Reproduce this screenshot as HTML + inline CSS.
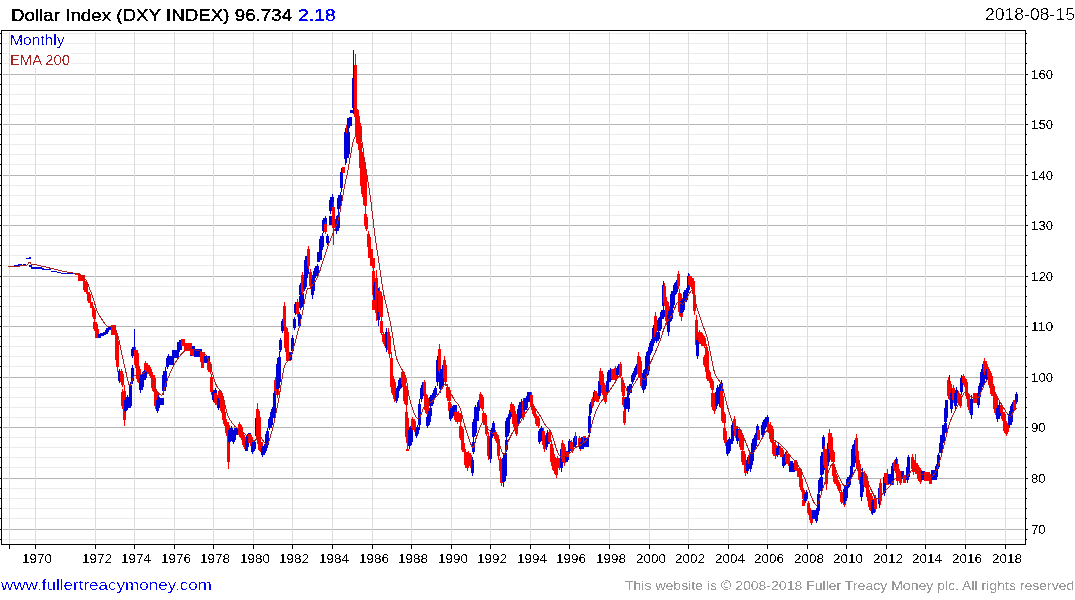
<!DOCTYPE html><html><head><meta charset="utf-8"><style>html,body{margin:0;padding:0;background:#fff;width:1075px;height:600px;overflow:hidden}svg{display:block}text{font-family:"Liberation Sans",sans-serif}</style></head><body>
<svg width="1075" height="600" viewBox="0 0 1075 600">
<rect width="1075" height="600" fill="#fff"/>
<g shape-rendering="crispEdges">
<line x1="3" y1="539.5" x2="1024" y2="539.5" stroke="#ebebeb"/>
<line x1="3" y1="529.5" x2="1024" y2="529.5" stroke="#b4b4b4"/>
<line x1="3" y1="518.5" x2="1024" y2="518.5" stroke="#ebebeb"/>
<line x1="3" y1="508.5" x2="1024" y2="508.5" stroke="#ebebeb"/>
<line x1="3" y1="498.5" x2="1024" y2="498.5" stroke="#ebebeb"/>
<line x1="3" y1="488.5" x2="1024" y2="488.5" stroke="#ebebeb"/>
<line x1="3" y1="478.5" x2="1024" y2="478.5" stroke="#b4b4b4"/>
<line x1="3" y1="467.5" x2="1024" y2="467.5" stroke="#ebebeb"/>
<line x1="3" y1="457.5" x2="1024" y2="457.5" stroke="#ebebeb"/>
<line x1="3" y1="447.5" x2="1024" y2="447.5" stroke="#ebebeb"/>
<line x1="3" y1="437.5" x2="1024" y2="437.5" stroke="#ebebeb"/>
<line x1="3" y1="427.5" x2="1024" y2="427.5" stroke="#b4b4b4"/>
<line x1="3" y1="417.5" x2="1024" y2="417.5" stroke="#ebebeb"/>
<line x1="3" y1="407.5" x2="1024" y2="407.5" stroke="#ebebeb"/>
<line x1="3" y1="397.5" x2="1024" y2="397.5" stroke="#ebebeb"/>
<line x1="3" y1="387.5" x2="1024" y2="387.5" stroke="#ebebeb"/>
<line x1="3" y1="377.5" x2="1024" y2="377.5" stroke="#b4b4b4"/>
<line x1="3" y1="366.5" x2="1024" y2="366.5" stroke="#ebebeb"/>
<line x1="3" y1="356.5" x2="1024" y2="356.5" stroke="#ebebeb"/>
<line x1="3" y1="346.5" x2="1024" y2="346.5" stroke="#ebebeb"/>
<line x1="3" y1="336.5" x2="1024" y2="336.5" stroke="#ebebeb"/>
<line x1="3" y1="326.5" x2="1024" y2="326.5" stroke="#b4b4b4"/>
<line x1="3" y1="316.5" x2="1024" y2="316.5" stroke="#ebebeb"/>
<line x1="3" y1="306.5" x2="1024" y2="306.5" stroke="#ebebeb"/>
<line x1="3" y1="296.5" x2="1024" y2="296.5" stroke="#ebebeb"/>
<line x1="3" y1="286.5" x2="1024" y2="286.5" stroke="#ebebeb"/>
<line x1="3" y1="276.5" x2="1024" y2="276.5" stroke="#b4b4b4"/>
<line x1="3" y1="265.5" x2="1024" y2="265.5" stroke="#ebebeb"/>
<line x1="3" y1="255.5" x2="1024" y2="255.5" stroke="#ebebeb"/>
<line x1="3" y1="245.5" x2="1024" y2="245.5" stroke="#ebebeb"/>
<line x1="3" y1="235.5" x2="1024" y2="235.5" stroke="#ebebeb"/>
<line x1="3" y1="225.5" x2="1024" y2="225.5" stroke="#b4b4b4"/>
<line x1="3" y1="215.5" x2="1024" y2="215.5" stroke="#ebebeb"/>
<line x1="3" y1="205.5" x2="1024" y2="205.5" stroke="#ebebeb"/>
<line x1="3" y1="195.5" x2="1024" y2="195.5" stroke="#ebebeb"/>
<line x1="3" y1="185.5" x2="1024" y2="185.5" stroke="#ebebeb"/>
<line x1="3" y1="175.5" x2="1024" y2="175.5" stroke="#b4b4b4"/>
<line x1="3" y1="164.5" x2="1024" y2="164.5" stroke="#ebebeb"/>
<line x1="3" y1="154.5" x2="1024" y2="154.5" stroke="#ebebeb"/>
<line x1="3" y1="144.5" x2="1024" y2="144.5" stroke="#ebebeb"/>
<line x1="3" y1="134.5" x2="1024" y2="134.5" stroke="#ebebeb"/>
<line x1="3" y1="124.5" x2="1024" y2="124.5" stroke="#b4b4b4"/>
<line x1="3" y1="114.5" x2="1024" y2="114.5" stroke="#ebebeb"/>
<line x1="3" y1="104.5" x2="1024" y2="104.5" stroke="#ebebeb"/>
<line x1="3" y1="94.5" x2="1024" y2="94.5" stroke="#ebebeb"/>
<line x1="3" y1="84.5" x2="1024" y2="84.5" stroke="#ebebeb"/>
<line x1="3" y1="74.5" x2="1024" y2="74.5" stroke="#b4b4b4"/>
<line x1="3" y1="63.5" x2="1024" y2="63.5" stroke="#ebebeb"/>
<line x1="3" y1="53.5" x2="1024" y2="53.5" stroke="#ebebeb"/>
<line x1="3" y1="43.5" x2="1024" y2="43.5" stroke="#ebebeb"/>
<line x1="3" y1="33.5" x2="1024" y2="33.5" stroke="#ebebeb"/>
<line x1="9.5" y1="32" x2="9.5" y2="543" stroke="#dcdcdc"/>
<line x1="35.5" y1="32" x2="35.5" y2="543" stroke="#dcdcdc"/>
<line x1="95.5" y1="32" x2="95.5" y2="543" stroke="#dcdcdc"/>
<line x1="134.5" y1="32" x2="134.5" y2="543" stroke="#dcdcdc"/>
<line x1="174.5" y1="32" x2="174.5" y2="543" stroke="#dcdcdc"/>
<line x1="213.5" y1="32" x2="213.5" y2="543" stroke="#dcdcdc"/>
<line x1="253.5" y1="32" x2="253.5" y2="543" stroke="#dcdcdc"/>
<line x1="292.5" y1="32" x2="292.5" y2="543" stroke="#dcdcdc"/>
<line x1="332.5" y1="32" x2="332.5" y2="543" stroke="#dcdcdc"/>
<line x1="372.5" y1="32" x2="372.5" y2="543" stroke="#dcdcdc"/>
<line x1="411.5" y1="32" x2="411.5" y2="543" stroke="#dcdcdc"/>
<line x1="451.5" y1="32" x2="451.5" y2="543" stroke="#dcdcdc"/>
<line x1="490.5" y1="32" x2="490.5" y2="543" stroke="#dcdcdc"/>
<line x1="530.5" y1="32" x2="530.5" y2="543" stroke="#dcdcdc"/>
<line x1="569.5" y1="32" x2="569.5" y2="543" stroke="#dcdcdc"/>
<line x1="609.5" y1="32" x2="609.5" y2="543" stroke="#dcdcdc"/>
<line x1="649.5" y1="32" x2="649.5" y2="543" stroke="#dcdcdc"/>
<line x1="688.5" y1="32" x2="688.5" y2="543" stroke="#dcdcdc"/>
<line x1="728.5" y1="32" x2="728.5" y2="543" stroke="#dcdcdc"/>
<line x1="767.5" y1="32" x2="767.5" y2="543" stroke="#dcdcdc"/>
<line x1="807.5" y1="32" x2="807.5" y2="543" stroke="#dcdcdc"/>
<line x1="846.5" y1="32" x2="846.5" y2="543" stroke="#dcdcdc"/>
<line x1="886.5" y1="32" x2="886.5" y2="543" stroke="#dcdcdc"/>
<line x1="925.5" y1="32" x2="925.5" y2="543" stroke="#dcdcdc"/>
<line x1="965.5" y1="32" x2="965.5" y2="543" stroke="#dcdcdc"/>
<line x1="1005.5" y1="32" x2="1005.5" y2="543" stroke="#dcdcdc"/>
</g>
<rect x="10" y="31" width="54" height="17" fill="#fff"/>
<rect x="10" y="51" width="61" height="17" fill="#fff"/>
<g shape-rendering="crispEdges">
<path d="M8.00 265.50H14.00V267.00H8.00ZM14.00 265.00H18.00V266.50H14.00ZM18.00 264.00H21.50V265.50H18.00ZM23.00 264.00H26.00V265.50H23.00ZM26.00 257.50H28.50V259.00H26.00ZM28.50 257.00H31.00V258.50H28.50ZM29.00 265.00H31.70V266.50H29.00ZM31.00 267.00H41.70V268.50H31.00ZM41.70 268.00H44.00V269.50H41.70ZM44.00 268.80H50.80V270.20H44.00ZM51.00 271.00H56.80V272.40H51.00ZM56.80 272.00H61.00V273.40H56.80ZM61.00 272.50H75.00V274.00H61.00Z" fill="#0000d8"/>
<path d="M75.00 273.00H79.50V275.30H75.00ZM79.00 275.00H80.00V281.00H79.00ZM78.00 275.00H81.00V281.00H78.00ZM81.00 275.00H82.00V281.00H81.00ZM80.00 275.00H83.00V281.00H80.00ZM83.00 275.00H84.00V281.00H83.00ZM82.00 275.00H85.00V281.00H82.00ZM84.00 279.00H85.00V292.00H84.00ZM83.00 281.00H86.00V290.00H83.00ZM86.00 281.00H87.00V294.00H86.00ZM85.00 283.00H88.00V292.00H85.00ZM88.00 292.00H89.00V301.00H88.00ZM87.00 292.00H90.00V301.00H87.00ZM89.00 294.00H90.00V303.00H89.00ZM88.00 294.00H91.00V303.00H88.00ZM91.00 302.00H92.00V308.00H91.00ZM90.00 302.00H93.00V308.00H90.00ZM93.00 306.00H94.00V319.00H93.00ZM92.00 308.00H95.00V317.00H92.00ZM94.00 308.00H95.00V321.00H94.00ZM93.00 310.00H96.00V319.00H93.00ZM94.00 320.00H95.00V331.00H94.00ZM93.00 322.00H96.00V329.00H93.00ZM96.00 322.00H97.00V333.00H96.00ZM95.00 324.00H98.00V331.00H95.00ZM96.00 329.00H97.00V338.00H96.00ZM95.00 329.00H98.00V338.00H95.00ZM97.00 329.00H98.00V338.00H97.00ZM96.00 329.00H99.00V338.00H96.00Z" fill="#ff0000"/>
<path d="M99.00 334.00H100.00V338.00H99.00ZM98.00 334.00H101.00V338.00H98.00ZM101.00 333.00H102.00V336.00H101.00ZM100.00 333.00H103.00V336.00H100.00ZM102.00 333.00H103.00V336.00H102.00ZM101.00 333.00H104.00V336.00H101.00ZM104.00 332.00H105.00V335.00H104.00ZM103.00 332.00H106.00V335.00H103.00ZM106.00 330.00H107.00V334.00H106.00ZM105.00 330.00H108.00V334.00H105.00ZM107.00 328.00H108.00V332.00H107.00ZM106.00 328.00H109.00V332.00H106.00ZM109.00 326.00H110.00V330.00H109.00ZM108.00 326.00H111.00V330.00H108.00Z" fill="#0000d8"/>
<path d="M112.00 325.00H113.00V335.00H112.00ZM111.00 325.00H114.00V335.00H111.00ZM114.00 325.00H115.00V335.00H114.00ZM113.00 325.00H116.00V335.00H113.00ZM116.00 330.00H117.00V365.00H116.00ZM115.00 335.00H118.00V360.00H115.00ZM117.00 336.00H118.00V372.00H117.00ZM116.00 341.00H119.00V367.00H116.00Z" fill="#ff0000"/>
<path d="M119.00 369.00H120.00V383.00H119.00ZM118.00 371.00H121.00V381.00H118.00Z" fill="#0000d8"/>
<path d="M121.00 369.00H122.00V384.00H121.00ZM120.00 371.00H123.00V382.00H120.00ZM122.00 372.00H123.00V387.00H122.00ZM121.00 374.00H124.00V385.00H121.00ZM122.00 389.00H123.00V409.00H122.00ZM121.00 392.00H124.00V406.00H121.00ZM124.00 393.00H125.00V413.00H124.00ZM123.00 396.00H126.00V410.00H123.00ZM124.00 385.00H125.00V426.00H124.00ZM123.00 391.00H126.00V420.00H123.00Z" fill="#ff0000"/>
<path d="M125.00 398.00H126.00V413.00H125.00ZM124.00 400.00H127.00V411.00H124.00ZM127.00 395.00H128.00V410.00H127.00ZM126.00 397.00H129.00V408.00H126.00ZM129.00 399.00H130.00V408.00H129.00ZM128.00 399.00H131.00V408.00H128.00ZM130.00 398.00H131.00V406.00H130.00ZM129.00 398.00H132.00V406.00H129.00ZM130.00 382.00H131.00V402.00H130.00ZM129.00 385.00H132.00V399.00H129.00ZM132.00 365.00H133.00V384.00H132.00ZM131.00 368.00H134.00V381.00H131.00ZM132.00 347.00H133.00V358.00H132.00ZM131.00 349.00H134.00V356.00H131.00ZM134.00 329.00H135.00V346.00H134.00ZM134.00 345.00H135.00V356.00H134.00ZM133.00 347.00H136.00V354.00H133.00Z" fill="#0000d8"/>
<path d="M135.00 347.00H136.00V368.00H135.00ZM134.00 350.00H137.00V365.00H134.00ZM137.00 350.00H138.00V372.00H137.00ZM136.00 353.00H139.00V369.00H136.00ZM137.00 363.00H138.00V382.00H137.00ZM136.00 366.00H139.00V379.00H136.00ZM139.00 366.00H140.00V386.00H139.00ZM138.00 369.00H141.00V383.00H138.00Z" fill="#ff0000"/>
<path d="M140.00 375.00H141.00V393.00H140.00ZM139.00 378.00H142.00V390.00H139.00ZM142.00 372.00H143.00V390.00H142.00ZM141.00 375.00H144.00V387.00H141.00ZM144.00 371.00H145.00V380.00H144.00ZM143.00 371.00H146.00V380.00H143.00ZM145.00 369.00H146.00V378.00H145.00ZM144.00 369.00H147.00V378.00H144.00Z" fill="#0000d8"/>
<path d="M145.00 361.00H146.00V372.00H145.00ZM144.00 363.00H147.00V370.00H144.00ZM147.00 363.00H148.00V374.00H147.00ZM146.00 365.00H149.00V372.00H146.00ZM149.00 365.00H150.00V376.00H149.00ZM148.00 367.00H151.00V374.00H148.00ZM150.00 367.00H151.00V378.00H150.00ZM149.00 369.00H152.00V376.00H149.00ZM152.00 372.00H153.00V391.00H152.00ZM151.00 375.00H154.00V388.00H151.00ZM154.00 375.00H155.00V395.00H154.00ZM153.00 378.00H156.00V392.00H153.00ZM155.00 387.00H156.00V409.00H155.00ZM154.00 390.00H157.00V406.00H154.00ZM157.00 391.00H158.00V413.00H157.00ZM156.00 394.00H159.00V410.00H156.00Z" fill="#ff0000"/>
<path d="M157.00 398.00H158.00V413.00H157.00ZM156.00 400.00H159.00V411.00H156.00ZM158.00 395.00H159.00V410.00H158.00ZM157.00 397.00H160.00V408.00H157.00ZM160.00 398.00H161.00V405.00H160.00ZM159.00 398.00H162.00V405.00H159.00ZM162.00 398.00H163.00V405.00H162.00ZM161.00 398.00H164.00V405.00H161.00ZM163.00 371.00H164.00V395.00H163.00ZM162.00 375.00H165.00V391.00H162.00ZM165.00 367.00H166.00V391.00H165.00ZM164.00 371.00H167.00V387.00H164.00ZM167.00 356.00H168.00V369.00H167.00ZM166.00 358.00H169.00V367.00H166.00ZM168.00 354.00H169.00V367.00H168.00ZM167.00 356.00H170.00V365.00H167.00ZM170.00 356.00H171.00V365.00H170.00ZM169.00 356.00H172.00V365.00H169.00ZM172.00 356.00H173.00V365.00H172.00ZM171.00 356.00H174.00V365.00H171.00ZM173.00 350.00H174.00V358.00H173.00ZM172.00 350.00H175.00V358.00H172.00ZM175.00 350.00H176.00V358.00H175.00ZM174.00 350.00H177.00V358.00H174.00ZM177.00 350.00H178.00V358.00H177.00ZM176.00 350.00H179.00V358.00H176.00ZM178.00 342.00H179.00V352.00H178.00ZM177.00 342.00H180.00V352.00H177.00ZM180.00 340.00H181.00V350.00H180.00ZM179.00 340.00H182.00V350.00H179.00Z" fill="#0000d8"/>
<path d="M182.00 339.00H183.00V346.00H182.00ZM181.00 339.00H184.00V346.00H181.00ZM183.00 339.00H184.00V346.00H183.00ZM182.00 339.00H185.00V346.00H182.00ZM185.00 343.00H186.00V351.00H185.00ZM184.00 343.00H187.00V351.00H184.00ZM186.00 343.00H187.00V351.00H186.00ZM185.00 343.00H188.00V351.00H185.00ZM188.00 343.00H189.00V351.00H188.00ZM187.00 343.00H190.00V351.00H187.00ZM190.00 343.00H191.00V351.00H190.00ZM189.00 343.00H192.00V351.00H189.00ZM190.00 345.00H191.00V351.00H190.00ZM189.00 345.00H192.00V351.00H189.00Z" fill="#ff0000"/>
<path d="M191.00 347.00H192.00V356.00H191.00ZM190.00 347.00H193.00V356.00H190.00Z" fill="#0000d8"/>
<path d="M191.00 346.00H192.00V355.00H191.00ZM190.00 346.00H193.00V355.00H190.00Z" fill="#ff0000"/>
<path d="M193.00 346.00H194.00V354.00H193.00ZM192.00 346.00H195.00V354.00H192.00Z" fill="#0000d8"/>
<path d="M193.00 350.00H194.00V356.00H193.00ZM192.00 350.00H195.00V356.00H192.00Z" fill="#ff0000"/>
<path d="M195.00 349.00H196.00V357.00H195.00ZM194.00 349.00H197.00V357.00H194.00ZM196.00 349.00H197.00V357.00H196.00ZM195.00 349.00H198.00V357.00H195.00ZM198.00 349.00H199.00V357.00H198.00ZM197.00 349.00H200.00V357.00H197.00ZM200.00 349.00H201.00V357.00H200.00ZM199.00 349.00H202.00V357.00H199.00Z" fill="#0000d8"/>
<path d="M201.00 352.00H202.00V362.00H201.00ZM200.00 352.00H203.00V362.00H200.00ZM202.00 360.00H203.00V368.00H202.00ZM201.00 360.00H204.00V368.00H201.00ZM203.00 352.00H204.00V362.00H203.00ZM202.00 352.00H205.00V362.00H202.00Z" fill="#ff0000"/>
<path d="M205.00 356.00H206.00V363.00H205.00ZM204.00 356.00H207.00V363.00H204.00ZM206.00 356.00H207.00V363.00H206.00ZM205.00 356.00H208.00V363.00H205.00ZM208.00 356.00H209.00V363.00H208.00ZM207.00 356.00H210.00V363.00H207.00Z" fill="#0000d8"/>
<path d="M208.00 360.00H209.00V372.00H208.00ZM207.00 362.00H210.00V370.00H207.00ZM210.00 362.00H211.00V374.00H210.00ZM209.00 364.00H212.00V372.00H209.00ZM211.00 374.00H212.00V395.00H211.00ZM210.00 377.00H213.00V392.00H210.00Z" fill="#ff0000"/>
<path d="M213.00 390.00H214.00V402.00H213.00ZM212.00 392.00H215.00V400.00H212.00ZM215.00 388.00H216.00V400.00H215.00ZM214.00 390.00H217.00V398.00H214.00Z" fill="#0000d8"/>
<path d="M215.00 393.00H216.00V403.00H215.00ZM214.00 393.00H217.00V403.00H214.00ZM216.00 395.00H217.00V405.00H216.00ZM215.00 395.00H218.00V405.00H215.00Z" fill="#ff0000"/>
<path d="M218.00 396.00H219.00V410.00H218.00ZM217.00 398.00H220.00V408.00H217.00Z" fill="#0000d8"/>
<path d="M219.00 389.00H220.00V400.00H219.00ZM218.00 391.00H221.00V398.00H218.00ZM221.00 391.00H222.00V402.00H221.00ZM220.00 393.00H223.00V400.00H220.00ZM221.00 398.00H222.00V413.00H221.00ZM220.00 400.00H223.00V411.00H220.00ZM223.00 400.00H224.00V423.00H223.00ZM222.00 403.00H225.00V420.00H222.00ZM224.00 410.00H225.00V426.00H224.00ZM223.00 412.00H226.00V424.00H223.00ZM226.00 419.00H227.00V436.00H226.00ZM225.00 422.00H228.00V433.00H225.00ZM228.00 422.00H229.00V440.00H228.00ZM227.00 425.00H230.00V437.00H227.00ZM228.00 423.00H229.00V469.00H228.00ZM227.00 430.00H230.00V462.00H227.00Z" fill="#ff0000"/>
<path d="M229.00 428.00H230.00V444.00H229.00ZM228.00 430.00H231.00V442.00H228.00ZM231.00 426.00H232.00V441.00H231.00ZM230.00 428.00H233.00V439.00H230.00ZM233.00 430.00H234.00V444.00H233.00ZM232.00 432.00H235.00V442.00H232.00ZM234.00 428.00H235.00V442.00H234.00ZM233.00 430.00H236.00V440.00H233.00ZM236.00 428.00H237.00V435.00H236.00ZM235.00 428.00H238.00V435.00H235.00ZM238.00 428.00H239.00V435.00H238.00ZM237.00 428.00H240.00V435.00H237.00Z" fill="#0000d8"/>
<path d="M239.00 422.00H240.00V437.00H239.00ZM238.00 424.00H241.00V435.00H238.00ZM241.00 425.00H242.00V440.00H241.00ZM240.00 427.00H243.00V438.00H240.00ZM243.00 433.00H244.00V447.00H243.00ZM242.00 435.00H245.00V445.00H242.00ZM244.00 435.00H245.00V449.00H244.00ZM243.00 437.00H246.00V447.00H243.00Z" fill="#ff0000"/>
<path d="M246.00 441.00H247.00V451.00H246.00ZM245.00 441.00H248.00V451.00H245.00ZM247.00 434.00H248.00V449.00H247.00ZM246.00 436.00H249.00V447.00H246.00ZM249.00 433.00H250.00V443.00H249.00ZM248.00 433.00H251.00V443.00H248.00Z" fill="#0000d8"/>
<path d="M249.00 434.00H250.00V443.00H249.00ZM248.00 434.00H251.00V443.00H248.00ZM251.00 435.00H252.00V448.00H251.00ZM250.00 437.00H253.00V446.00H250.00ZM252.00 441.00H253.00V450.00H252.00ZM251.00 441.00H254.00V450.00H251.00Z" fill="#ff0000"/>
<path d="M252.00 442.00H253.00V454.00H252.00ZM251.00 444.00H254.00V452.00H251.00ZM254.00 440.00H255.00V451.00H254.00ZM253.00 442.00H256.00V449.00H253.00ZM256.00 414.00H257.00V440.00H256.00ZM255.00 418.00H258.00V436.00H255.00ZM257.00 409.00H258.00V435.00H257.00ZM256.00 413.00H259.00V431.00H256.00Z" fill="#0000d8"/>
<path d="M257.00 403.00H258.00V444.00H257.00ZM256.00 409.00H259.00V438.00H256.00ZM259.00 411.00H260.00V451.00H259.00ZM258.00 417.00H261.00V445.00H258.00ZM259.00 440.00H260.00V450.00H259.00ZM258.00 440.00H261.00V450.00H258.00ZM261.00 442.00H262.00V452.00H261.00ZM260.00 442.00H263.00V452.00H260.00Z" fill="#ff0000"/>
<path d="M262.00 446.00H263.00V457.00H262.00ZM261.00 448.00H264.00V455.00H261.00ZM264.00 444.00H265.00V455.00H264.00ZM263.00 446.00H266.00V453.00H263.00ZM266.00 431.00H267.00V451.00H266.00ZM265.00 434.00H268.00V448.00H265.00ZM267.00 428.00H268.00V448.00H267.00ZM266.00 431.00H269.00V445.00H266.00ZM269.00 417.00H270.00V430.00H269.00ZM268.00 419.00H271.00V428.00H268.00ZM271.00 409.00H272.00V428.00H271.00ZM270.00 412.00H273.00V425.00H270.00ZM272.00 407.00H273.00V420.00H272.00ZM271.00 409.00H274.00V418.00H271.00ZM274.00 388.00H275.00V419.00H274.00ZM273.00 393.00H276.00V414.00H273.00Z" fill="#0000d8"/>
<path d="M275.00 377.00H276.00V394.00H275.00ZM274.00 380.00H277.00V391.00H274.00ZM277.00 380.00H278.00V398.00H277.00ZM276.00 383.00H279.00V395.00H276.00Z" fill="#ff0000"/>
<path d="M277.00 358.00H278.00V395.00H277.00ZM276.00 364.00H279.00V389.00H276.00ZM279.00 351.00H280.00V388.00H279.00ZM278.00 357.00H281.00V382.00H278.00ZM280.00 338.00H281.00V352.00H280.00ZM279.00 340.00H282.00V350.00H279.00ZM282.00 319.00H283.00V333.00H282.00ZM281.00 321.00H284.00V331.00H281.00Z" fill="#0000d8"/>
<path d="M284.00 302.00H285.00V330.00H284.00ZM283.00 306.00H286.00V326.00H283.00ZM285.00 323.00H286.00V352.00H285.00ZM284.00 327.00H287.00V348.00H284.00ZM287.00 328.00H288.00V357.00H287.00ZM286.00 332.00H289.00V353.00H286.00ZM287.00 352.00H288.00V361.00H287.00ZM286.00 352.00H289.00V361.00H286.00ZM289.00 352.00H290.00V361.00H289.00ZM288.00 352.00H291.00V361.00H288.00Z" fill="#ff0000"/>
<path d="M290.00 352.00H291.00V360.00H290.00ZM289.00 352.00H292.00V360.00H289.00ZM292.00 335.00H293.00V354.00H292.00ZM291.00 338.00H294.00V351.00H291.00ZM294.00 317.00H295.00V330.00H294.00ZM293.00 319.00H296.00V328.00H293.00ZM295.00 302.00H296.00V315.00H295.00ZM294.00 304.00H297.00V313.00H294.00Z" fill="#0000d8"/>
<path d="M297.00 299.00H298.00V317.00H297.00ZM296.00 302.00H299.00V314.00H296.00Z" fill="#ff0000"/>
<path d="M299.00 312.00H300.00V328.00H299.00ZM298.00 314.00H301.00V326.00H298.00ZM300.00 294.00H301.00V310.00H300.00ZM299.00 296.00H302.00V308.00H299.00ZM300.00 283.00H301.00V297.00H300.00ZM299.00 285.00H302.00V295.00H299.00ZM302.00 291.00H303.00V307.00H302.00ZM301.00 293.00H304.00V305.00H301.00ZM302.00 280.00H303.00V294.00H302.00ZM301.00 282.00H304.00V292.00H301.00Z" fill="#0000d8"/>
<path d="M302.00 272.00H303.00V295.00H302.00ZM301.00 275.00H304.00V292.00H301.00Z" fill="#ff0000"/>
<path d="M304.00 279.00H305.00V291.00H304.00ZM303.00 281.00H306.00V289.00H303.00ZM305.00 276.00H306.00V289.00H305.00ZM304.00 278.00H307.00V287.00H304.00ZM305.00 256.00H306.00V282.00H305.00ZM304.00 260.00H307.00V278.00H304.00ZM307.00 252.00H308.00V278.00H307.00ZM306.00 256.00H309.00V274.00H306.00Z" fill="#0000d8"/>
<path d="M308.00 246.00H309.00V269.00H308.00ZM307.00 249.00H310.00V266.00H307.00ZM310.00 269.00H311.00V289.00H310.00ZM309.00 272.00H312.00V286.00H309.00Z" fill="#ff0000"/>
<path d="M312.00 275.00H313.00V299.00H312.00ZM311.00 279.00H314.00V295.00H311.00ZM313.00 271.00H314.00V295.00H313.00ZM312.00 275.00H315.00V291.00H312.00ZM315.00 266.00H316.00V278.00H315.00ZM314.00 268.00H317.00V276.00H314.00ZM317.00 264.00H318.00V276.00H317.00ZM316.00 266.00H319.00V274.00H316.00ZM318.00 252.00H319.00V262.00H318.00ZM317.00 252.00H320.00V262.00H317.00ZM320.00 250.00H321.00V260.00H320.00ZM319.00 250.00H322.00V260.00H319.00ZM320.00 236.00H321.00V253.00H320.00ZM319.00 239.00H322.00V250.00H319.00ZM322.00 233.00H323.00V250.00H322.00ZM321.00 236.00H324.00V247.00H321.00ZM323.00 218.00H324.00V233.00H323.00ZM322.00 220.00H325.00V231.00H322.00ZM325.00 216.00H326.00V230.00H325.00ZM324.00 218.00H327.00V228.00H324.00Z" fill="#0000d8"/>
<path d="M325.00 222.00H326.00V234.00H325.00ZM324.00 224.00H327.00V232.00H324.00Z" fill="#ff0000"/>
<path d="M327.00 234.00H328.00V245.00H327.00ZM326.00 236.00H329.00V243.00H326.00ZM330.00 216.00H331.00V225.00H330.00ZM329.00 216.00H332.00V225.00H329.00ZM330.00 197.00H331.00V214.00H330.00ZM329.00 200.00H332.00V211.00H329.00ZM332.00 194.00H333.00V211.00H332.00ZM331.00 197.00H334.00V208.00H331.00Z" fill="#0000d8"/>
<path d="M333.00 202.00H334.00V233.00H333.00ZM332.00 207.00H335.00V228.00H332.00ZM333.00 232.00H334.00V245.00H333.00Z" fill="#ff0000"/>
<path d="M336.00 216.00H337.00V234.00H336.00ZM335.00 219.00H338.00V231.00H335.00ZM338.00 212.00H339.00V231.00H338.00ZM337.00 215.00H340.00V228.00H337.00ZM338.00 195.00H339.00V212.00H338.00ZM337.00 198.00H340.00V209.00H337.00ZM340.00 192.00H341.00V209.00H340.00ZM339.00 195.00H342.00V206.00H339.00ZM341.00 168.00H342.00V192.00H341.00ZM340.00 172.00H343.00V188.00H340.00Z" fill="#0000d8"/>
<path d="M343.00 167.00H344.00V173.00H343.00ZM342.00 167.00H345.00V173.00H342.00Z" fill="#ff0000"/>
<path d="M345.00 128.00H346.00V165.00H345.00ZM344.00 134.00H347.00V159.00H344.00ZM345.00 129.00H346.00V150.00H345.00ZM344.00 132.00H347.00V147.00H344.00ZM346.00 125.00H347.00V146.00H346.00ZM345.00 128.00H348.00V143.00H345.00Z" fill="#0000d8"/>
<path d="M346.00 125.00H347.00V142.00H346.00Z" fill="#ff0000"/>
<path d="M346.00 133.00H347.00V163.00H346.00ZM345.00 138.00H348.00V158.00H345.00ZM348.00 128.00H349.00V158.00H348.00ZM347.00 132.00H350.00V154.00H347.00ZM348.00 118.00H349.00V128.00H348.00ZM347.00 118.00H350.00V128.00H347.00ZM350.00 117.00H351.00V126.00H350.00ZM349.00 117.00H352.00V126.00H349.00ZM351.00 110.00H352.00V113.00H351.00ZM350.00 110.00H353.00V113.00H350.00ZM353.00 72.00H354.00V114.00H353.00ZM352.00 78.00H355.00V108.00H352.00ZM353.00 50.00H354.00V72.00H353.00Z" fill="#0000d8"/>
<path d="M355.00 70.00H356.00V112.00H355.00ZM354.00 76.00H357.00V106.00H354.00ZM355.00 54.00H356.00V128.00H355.00ZM354.00 65.00H357.00V117.00H354.00ZM356.00 103.00H357.00V143.00H356.00ZM355.00 109.00H358.00V137.00H355.00ZM358.00 110.00H359.00V150.00H358.00ZM357.00 116.00H360.00V144.00H357.00ZM358.00 120.00H359.00V140.00H358.00ZM357.00 123.00H360.00V137.00H357.00ZM360.00 123.00H361.00V143.00H360.00ZM359.00 126.00H362.00V140.00H359.00ZM360.00 138.00H361.00V173.00H360.00ZM359.00 143.00H362.00V168.00H359.00ZM361.00 144.00H362.00V194.00H361.00ZM360.00 152.00H363.00V186.00H360.00ZM363.00 165.00H364.00V200.00H363.00ZM362.00 170.00H365.00V195.00H362.00ZM363.00 153.00H364.00V205.00H363.00ZM362.00 161.00H365.00V197.00H362.00ZM365.00 162.00H366.00V214.00H365.00ZM364.00 170.00H367.00V206.00H364.00ZM365.00 212.00H366.00V228.00H365.00ZM364.00 214.00H367.00V226.00H364.00ZM366.00 215.00H367.00V231.00H366.00ZM365.00 217.00H368.00V229.00H365.00ZM368.00 231.00H369.00V250.00H368.00ZM367.00 234.00H370.00V247.00H367.00ZM369.00 234.00H370.00V253.00H369.00ZM368.00 237.00H371.00V250.00H368.00ZM369.00 249.00H370.00V258.00H369.00ZM368.00 249.00H371.00V258.00H368.00ZM371.00 249.00H372.00V258.00H371.00ZM370.00 249.00H373.00V258.00H370.00ZM371.00 256.00H372.00V266.00H371.00ZM370.00 256.00H373.00V266.00H370.00ZM373.00 258.00H374.00V268.00H373.00ZM372.00 258.00H375.00V268.00H372.00ZM373.00 266.00H374.00V300.00H373.00ZM372.00 271.00H375.00V295.00H372.00ZM373.00 300.00H374.00V310.00H373.00ZM372.00 300.00H375.00V310.00H372.00Z" fill="#ff0000"/>
<path d="M374.00 282.00H375.00V300.00H374.00ZM373.00 285.00H376.00V297.00H373.00Z" fill="#0000d8"/>
<path d="M376.00 270.00H377.00V321.00H376.00ZM375.00 278.00H378.00V313.00H375.00Z" fill="#ff0000"/>
<path d="M378.00 288.00H379.00V326.00H378.00ZM377.00 294.00H380.00V320.00H377.00Z" fill="#0000d8"/>
<path d="M379.00 287.00H380.00V316.00H379.00ZM378.00 291.00H381.00V312.00H378.00ZM381.00 292.00H382.00V321.00H381.00ZM380.00 296.00H383.00V317.00H380.00ZM381.00 319.00H382.00V335.00H381.00ZM380.00 321.00H383.00V333.00H380.00ZM383.00 332.00H384.00V344.00H383.00ZM382.00 334.00H385.00V342.00H382.00ZM384.00 334.00H385.00V346.00H384.00ZM383.00 336.00H386.00V344.00H383.00Z" fill="#ff0000"/>
<path d="M386.00 328.00H387.00V352.00H386.00ZM385.00 332.00H388.00V348.00H385.00Z" fill="#0000d8"/>
<path d="M388.00 328.00H389.00V354.00H388.00ZM387.00 332.00H390.00V350.00H387.00ZM389.00 332.00H390.00V358.00H389.00ZM388.00 336.00H391.00V354.00H388.00ZM391.00 352.00H392.00V393.00H391.00ZM390.00 358.00H393.00V387.00H390.00ZM393.00 376.00H394.00V398.00H393.00ZM392.00 379.00H395.00V395.00H392.00ZM394.00 379.00H395.00V402.00H394.00ZM393.00 382.00H396.00V399.00H393.00Z" fill="#ff0000"/>
<path d="M396.00 389.00H397.00V403.00H396.00ZM395.00 391.00H398.00V401.00H395.00ZM397.00 386.00H398.00V400.00H397.00ZM396.00 388.00H399.00V398.00H396.00ZM399.00 378.00H400.00V391.00H399.00ZM398.00 380.00H401.00V389.00H398.00ZM401.00 376.00H402.00V388.00H401.00ZM400.00 378.00H403.00V386.00H400.00Z" fill="#0000d8"/>
<path d="M402.00 369.00H403.00V387.00H402.00ZM401.00 372.00H404.00V384.00H401.00ZM404.00 372.00H405.00V391.00H404.00ZM403.00 375.00H406.00V388.00H403.00ZM404.00 382.00H405.00V404.00H404.00ZM403.00 385.00H406.00V401.00H403.00ZM406.00 386.00H407.00V408.00H406.00ZM405.00 389.00H408.00V405.00H405.00ZM406.00 406.00H407.00V443.00H406.00ZM405.00 412.00H408.00V437.00H405.00ZM407.00 412.00H408.00V449.00H407.00ZM406.00 418.00H409.00V443.00H406.00ZM407.00 449.00H408.00V451.00H407.00ZM406.00 449.00H409.00V451.00H406.00Z" fill="#ff0000"/>
<path d="M409.00 427.00H410.00V449.00H409.00ZM408.00 430.00H411.00V446.00H408.00ZM411.00 423.00H412.00V445.00H411.00ZM410.00 426.00H413.00V442.00H410.00Z" fill="#0000d8"/>
<path d="M412.00 417.00H413.00V430.00H412.00ZM411.00 419.00H414.00V428.00H411.00ZM414.00 419.00H415.00V432.00H414.00ZM413.00 421.00H416.00V430.00H413.00Z" fill="#ff0000"/>
<path d="M416.00 427.00H417.00V438.00H416.00ZM415.00 429.00H418.00V436.00H415.00ZM417.00 425.00H418.00V436.00H417.00ZM416.00 427.00H419.00V434.00H416.00ZM419.00 399.00H420.00V430.00H419.00ZM418.00 404.00H421.00V425.00H418.00ZM421.00 385.00H422.00V402.00H421.00ZM420.00 388.00H423.00V399.00H420.00ZM422.00 382.00H423.00V399.00H422.00ZM421.00 385.00H424.00V396.00H421.00Z" fill="#0000d8"/>
<path d="M424.00 380.00H425.00V395.00H424.00ZM423.00 382.00H426.00V393.00H423.00ZM425.00 391.00H426.00V413.00H425.00ZM424.00 394.00H427.00V410.00H424.00ZM427.00 395.00H428.00V417.00H427.00ZM426.00 398.00H429.00V414.00H426.00Z" fill="#ff0000"/>
<path d="M427.00 415.00H428.00V428.00H427.00ZM426.00 417.00H429.00V426.00H426.00ZM429.00 408.00H430.00V425.00H429.00ZM428.00 411.00H431.00V422.00H428.00ZM430.00 406.00H431.00V418.00H430.00ZM429.00 408.00H432.00V416.00H429.00ZM430.00 395.00H431.00V408.00H430.00ZM429.00 397.00H432.00V406.00H429.00ZM432.00 393.00H433.00V406.00H432.00ZM431.00 395.00H434.00V404.00H431.00ZM434.00 388.00H435.00V399.00H434.00ZM433.00 390.00H436.00V397.00H433.00ZM435.00 386.00H436.00V397.00H435.00ZM434.00 388.00H437.00V395.00H434.00ZM437.00 356.00H438.00V386.00H437.00ZM436.00 360.00H439.00V382.00H436.00Z" fill="#0000d8"/>
<path d="M439.00 344.00H440.00V376.00H439.00ZM438.00 349.00H441.00V371.00H438.00Z" fill="#ff0000"/>
<path d="M440.00 369.00H441.00V393.00H440.00ZM439.00 373.00H442.00V389.00H439.00ZM442.00 365.00H443.00V389.00H442.00ZM441.00 369.00H444.00V385.00H441.00Z" fill="#0000d8"/>
<path d="M444.00 356.00H445.00V382.00H444.00ZM443.00 360.00H446.00V378.00H443.00ZM445.00 361.00H446.00V386.00H445.00ZM444.00 365.00H447.00V382.00H444.00ZM447.00 384.00H448.00V401.00H447.00ZM446.00 387.00H449.00V398.00H446.00ZM449.00 387.00H450.00V404.00H449.00ZM448.00 390.00H451.00V401.00H448.00ZM449.00 400.00H450.00V413.00H449.00ZM448.00 402.00H451.00V411.00H448.00ZM450.00 402.00H451.00V416.00H450.00ZM449.00 404.00H452.00V414.00H449.00Z" fill="#ff0000"/>
<path d="M450.00 408.00H451.00V421.00H450.00ZM449.00 410.00H452.00V419.00H449.00ZM452.00 406.00H453.00V418.00H452.00ZM451.00 408.00H454.00V416.00H451.00ZM454.00 405.00H455.00V413.00H454.00ZM453.00 405.00H456.00V413.00H453.00ZM455.00 405.00H456.00V413.00H455.00ZM454.00 405.00H457.00V413.00H454.00Z" fill="#0000d8"/>
<path d="M455.00 410.00H456.00V422.00H455.00ZM454.00 412.00H457.00V420.00H454.00ZM457.00 412.00H458.00V424.00H457.00ZM456.00 414.00H459.00V422.00H456.00ZM458.00 411.00H459.00V422.00H458.00ZM457.00 413.00H460.00V420.00H457.00ZM460.00 413.00H461.00V424.00H460.00ZM459.00 415.00H462.00V422.00H459.00ZM460.00 424.00H461.00V440.00H460.00ZM459.00 426.00H462.00V438.00H459.00ZM462.00 427.00H463.00V443.00H462.00ZM461.00 429.00H464.00V441.00H461.00ZM462.00 441.00H463.00V450.00H462.00ZM461.00 441.00H464.00V450.00H461.00ZM463.00 443.00H464.00V452.00H463.00ZM462.00 443.00H465.00V452.00H462.00ZM465.00 449.00H466.00V468.00H465.00ZM464.00 452.00H467.00V465.00H464.00ZM467.00 452.00H468.00V471.00H467.00ZM466.00 455.00H469.00V468.00H466.00ZM468.00 457.00H469.00V468.00H468.00ZM467.00 459.00H470.00V466.00H467.00ZM468.00 451.00H469.00V465.00H468.00ZM467.00 453.00H470.00V463.00H467.00ZM470.00 453.00H471.00V468.00H470.00ZM469.00 455.00H472.00V466.00H469.00Z" fill="#ff0000"/>
<path d="M472.00 457.00H473.00V476.00H472.00ZM471.00 460.00H474.00V473.00H471.00ZM473.00 440.00H474.00V454.00H473.00ZM472.00 442.00H475.00V452.00H472.00ZM473.00 419.00H474.00V440.00H473.00ZM472.00 422.00H475.00V437.00H472.00ZM475.00 416.00H476.00V436.00H475.00ZM474.00 419.00H477.00V433.00H474.00ZM475.00 405.00H476.00V421.00H475.00ZM474.00 407.00H477.00V419.00H474.00ZM477.00 411.00H478.00V421.00H477.00ZM476.00 411.00H479.00V421.00H476.00ZM478.00 400.00H479.00V413.00H478.00ZM477.00 402.00H480.00V411.00H477.00Z" fill="#0000d8"/>
<path d="M480.00 392.00H481.00V408.00H480.00ZM479.00 394.00H482.00V406.00H479.00ZM482.00 395.00H483.00V411.00H482.00ZM481.00 397.00H484.00V409.00H481.00ZM483.00 411.00H484.00V425.00H483.00ZM482.00 413.00H485.00V423.00H482.00ZM485.00 413.00H486.00V427.00H485.00ZM484.00 415.00H487.00V425.00H484.00ZM486.00 424.00H487.00V436.00H486.00ZM485.00 426.00H488.00V434.00H485.00ZM488.00 432.00H489.00V460.00H488.00ZM487.00 436.00H490.00V456.00H487.00Z" fill="#ff0000"/>
<path d="M490.00 435.00H491.00V463.00H490.00ZM489.00 439.00H492.00V459.00H489.00ZM491.00 428.00H492.00V440.00H491.00ZM490.00 430.00H493.00V438.00H490.00ZM493.00 421.00H494.00V436.00H493.00ZM492.00 423.00H495.00V434.00H492.00Z" fill="#0000d8"/>
<path d="M495.00 430.00H496.00V441.00H495.00ZM494.00 432.00H497.00V439.00H494.00ZM496.00 432.00H497.00V443.00H496.00ZM495.00 434.00H498.00V441.00H495.00ZM498.00 435.00H499.00V460.00H498.00ZM497.00 439.00H500.00V456.00H497.00ZM500.00 457.00H501.00V473.00H500.00ZM499.00 459.00H502.00V471.00H499.00ZM501.00 466.00H502.00V486.00H501.00ZM500.00 469.00H503.00V483.00H500.00Z" fill="#ff0000"/>
<path d="M503.00 453.00H504.00V487.00H503.00ZM502.00 458.00H505.00V482.00H502.00ZM505.00 448.00H506.00V481.00H505.00ZM504.00 453.00H507.00V476.00H504.00ZM506.00 438.00H507.00V452.00H506.00ZM505.00 440.00H508.00V450.00H505.00ZM506.00 418.00H507.00V440.00H506.00ZM505.00 421.00H508.00V437.00H505.00ZM508.00 414.00H509.00V436.00H508.00ZM507.00 417.00H510.00V433.00H507.00ZM510.00 408.00H511.00V419.00H510.00ZM509.00 410.00H512.00V417.00H509.00ZM511.00 406.00H512.00V417.00H511.00ZM510.00 408.00H513.00V415.00H510.00Z" fill="#0000d8"/>
<path d="M511.00 402.00H512.00V414.00H511.00ZM510.00 404.00H513.00V412.00H510.00ZM513.00 404.00H514.00V416.00H513.00ZM512.00 406.00H515.00V414.00H512.00ZM513.00 408.00H514.00V427.00H513.00ZM512.00 411.00H515.00V424.00H512.00ZM515.00 411.00H516.00V430.00H515.00ZM514.00 414.00H517.00V427.00H514.00ZM515.00 418.00H516.00V433.00H515.00ZM514.00 420.00H517.00V431.00H514.00ZM516.00 421.00H517.00V436.00H516.00ZM515.00 423.00H518.00V434.00H515.00Z" fill="#ff0000"/>
<path d="M518.00 406.00H519.00V426.00H518.00ZM517.00 409.00H520.00V423.00H517.00ZM519.00 402.00H520.00V422.00H519.00ZM518.00 405.00H521.00V419.00H518.00ZM521.00 399.00H522.00V418.00H521.00ZM520.00 402.00H523.00V415.00H520.00Z" fill="#0000d8"/>
<path d="M523.00 398.00H524.00V420.00H523.00ZM522.00 401.00H525.00V417.00H522.00Z" fill="#ff0000"/>
<path d="M524.00 398.00H525.00V412.00H524.00ZM523.00 400.00H526.00V410.00H523.00ZM526.00 396.00H527.00V410.00H526.00ZM525.00 398.00H528.00V408.00H525.00ZM528.00 392.00H529.00V402.00H528.00ZM527.00 392.00H530.00V402.00H527.00ZM529.00 392.00H530.00V402.00H529.00ZM528.00 392.00H531.00V402.00H528.00Z" fill="#0000d8"/>
<path d="M531.00 392.00H532.00V410.00H531.00ZM530.00 395.00H533.00V407.00H530.00ZM533.00 404.00H534.00V416.00H533.00ZM532.00 406.00H535.00V414.00H532.00ZM534.00 406.00H535.00V418.00H534.00ZM533.00 408.00H536.00V416.00H533.00ZM536.00 414.00H537.00V426.00H536.00ZM535.00 416.00H538.00V424.00H535.00ZM538.00 416.00H539.00V428.00H538.00ZM537.00 418.00H540.00V426.00H537.00Z" fill="#ff0000"/>
<path d="M539.00 429.00H540.00V444.00H539.00ZM538.00 431.00H541.00V442.00H538.00ZM541.00 426.00H542.00V441.00H541.00ZM540.00 428.00H543.00V439.00H540.00Z" fill="#0000d8"/>
<path d="M543.00 428.00H544.00V448.00H543.00ZM542.00 431.00H545.00V445.00H542.00ZM544.00 432.00H545.00V452.00H544.00ZM543.00 435.00H546.00V449.00H543.00Z" fill="#ff0000"/>
<path d="M546.00 433.00H547.00V450.00H546.00ZM545.00 436.00H548.00V447.00H545.00ZM547.00 430.00H548.00V447.00H547.00ZM546.00 433.00H549.00V444.00H546.00Z" fill="#0000d8"/>
<path d="M549.00 430.00H550.00V444.00H549.00ZM548.00 432.00H551.00V442.00H548.00ZM551.00 440.00H552.00V466.00H551.00ZM550.00 444.00H553.00V462.00H550.00ZM552.00 444.00H553.00V470.00H552.00ZM551.00 448.00H554.00V466.00H551.00ZM554.00 454.00H555.00V474.00H554.00ZM553.00 457.00H556.00V471.00H553.00ZM556.00 458.00H557.00V478.00H556.00ZM555.00 461.00H558.00V475.00H555.00ZM557.00 456.00H558.00V468.00H557.00ZM556.00 458.00H559.00V466.00H556.00ZM559.00 458.00H560.00V470.00H559.00ZM558.00 460.00H561.00V468.00H558.00Z" fill="#ff0000"/>
<path d="M561.00 445.00H562.00V472.00H561.00ZM560.00 449.00H563.00V468.00H560.00Z" fill="#0000d8"/>
<path d="M562.00 440.00H563.00V462.00H562.00ZM561.00 443.00H564.00V459.00H561.00ZM564.00 444.00H565.00V466.00H564.00ZM563.00 447.00H566.00V463.00H563.00Z" fill="#ff0000"/>
<path d="M566.00 453.00H567.00V462.00H566.00ZM565.00 453.00H568.00V462.00H565.00ZM567.00 451.00H568.00V460.00H567.00ZM566.00 451.00H569.00V460.00H566.00Z" fill="#0000d8"/>
<path d="M567.00 452.00H568.00V457.00H567.00ZM566.00 452.00H569.00V457.00H566.00Z" fill="#ff0000"/>
<path d="M569.00 439.00H570.00V453.00H569.00ZM568.00 441.00H571.00V451.00H568.00Z" fill="#0000d8"/>
<path d="M571.00 440.00H572.00V451.00H571.00ZM570.00 442.00H573.00V449.00H570.00ZM572.00 442.00H573.00V453.00H572.00ZM571.00 444.00H574.00V451.00H571.00Z" fill="#ff0000"/>
<path d="M574.00 438.00H575.00V447.00H574.00ZM573.00 438.00H576.00V447.00H573.00ZM575.00 436.00H576.00V445.00H575.00ZM574.00 436.00H577.00V445.00H574.00Z" fill="#0000d8"/>
<path d="M575.00 432.00H576.00V442.00H575.00ZM579.00 436.00H580.00V449.00H579.00ZM578.00 438.00H581.00V447.00H578.00ZM580.00 438.00H581.00V451.00H580.00ZM579.00 440.00H582.00V449.00H579.00Z" fill="#ff0000"/>
<path d="M580.00 442.00H581.00V449.00H580.00ZM579.00 442.00H582.00V449.00H579.00ZM582.00 442.00H583.00V449.00H582.00ZM581.00 442.00H584.00V449.00H581.00ZM582.00 437.00H583.00V447.00H582.00ZM581.00 437.00H584.00V447.00H581.00ZM584.00 437.00H585.00V447.00H584.00ZM583.00 437.00H586.00V447.00H583.00Z" fill="#0000d8"/>
<path d="M584.00 436.00H585.00V442.00H584.00ZM583.00 436.00H586.00V442.00H583.00Z" fill="#ff0000"/>
<path d="M585.00 438.00H586.00V447.00H585.00ZM584.00 438.00H587.00V447.00H584.00ZM587.00 438.00H588.00V447.00H587.00ZM586.00 438.00H589.00V447.00H586.00ZM589.00 412.00H590.00V437.00H589.00ZM588.00 416.00H591.00V433.00H588.00ZM590.00 402.00H591.00V415.00H590.00ZM589.00 404.00H592.00V413.00H589.00Z" fill="#0000d8"/>
<path d="M592.00 397.00H593.00V408.00H592.00ZM591.00 399.00H594.00V406.00H591.00Z" fill="#ff0000"/>
<path d="M594.00 390.00H595.00V402.00H594.00ZM593.00 392.00H596.00V400.00H593.00Z" fill="#0000d8"/>
<path d="M595.00 391.00H596.00V401.00H595.00ZM594.00 391.00H597.00V401.00H594.00ZM597.00 393.00H598.00V402.00H597.00ZM596.00 393.00H599.00V402.00H596.00Z" fill="#ff0000"/>
<path d="M599.00 378.00H600.00V399.00H599.00ZM598.00 381.00H601.00V396.00H598.00Z" fill="#0000d8"/>
<path d="M600.00 368.00H601.00V385.00H600.00ZM599.00 371.00H602.00V382.00H599.00ZM602.00 371.00H603.00V388.00H602.00ZM601.00 374.00H604.00V385.00H601.00ZM602.00 380.00H603.00V395.00H602.00ZM601.00 382.00H604.00V393.00H601.00ZM604.00 383.00H605.00V397.00H604.00ZM603.00 385.00H606.00V395.00H603.00ZM604.00 386.00H605.00V401.00H604.00ZM603.00 388.00H606.00V399.00H603.00ZM605.00 389.00H606.00V404.00H605.00ZM604.00 391.00H607.00V402.00H604.00Z" fill="#ff0000"/>
<path d="M607.00 378.00H608.00V395.00H607.00ZM606.00 381.00H609.00V392.00H606.00ZM608.00 370.00H609.00V384.00H608.00ZM607.00 372.00H610.00V382.00H607.00ZM610.00 368.00H611.00V382.00H610.00ZM609.00 370.00H612.00V380.00H609.00Z" fill="#0000d8"/>
<path d="M612.00 369.00H613.00V379.00H612.00ZM611.00 369.00H614.00V379.00H611.00ZM613.00 371.00H614.00V380.00H613.00ZM612.00 371.00H615.00V380.00H612.00ZM615.00 366.00H616.00V382.00H615.00ZM614.00 368.00H617.00V380.00H614.00Z" fill="#ff0000"/>
<path d="M617.00 366.00H618.00V377.00H617.00ZM616.00 368.00H619.00V375.00H616.00ZM618.00 364.00H619.00V375.00H618.00ZM617.00 366.00H620.00V373.00H617.00Z" fill="#0000d8"/>
<path d="M620.00 362.00H621.00V378.00H620.00ZM619.00 364.00H622.00V376.00H619.00ZM622.00 377.00H623.00V395.00H622.00ZM621.00 380.00H624.00V392.00H621.00ZM623.00 380.00H624.00V399.00H623.00ZM622.00 383.00H625.00V396.00H622.00ZM623.00 395.00H624.00V407.00H623.00ZM622.00 397.00H625.00V405.00H622.00ZM624.00 409.00H625.00V425.00H624.00ZM623.00 411.00H626.00V423.00H623.00ZM625.00 397.00H626.00V410.00H625.00ZM624.00 399.00H627.00V408.00H624.00Z" fill="#ff0000"/>
<path d="M625.00 397.00H626.00V411.00H625.00ZM624.00 399.00H627.00V409.00H624.00ZM627.00 395.00H628.00V408.00H627.00ZM626.00 397.00H629.00V406.00H626.00ZM628.00 395.00H629.00V412.00H628.00ZM627.00 398.00H630.00V409.00H627.00ZM628.00 386.00H629.00V395.00H628.00ZM627.00 386.00H630.00V395.00H627.00ZM630.00 384.00H631.00V393.00H630.00ZM629.00 384.00H632.00V393.00H629.00ZM632.00 373.00H633.00V384.00H632.00ZM631.00 375.00H634.00V382.00H631.00ZM633.00 371.00H634.00V382.00H633.00ZM632.00 373.00H635.00V380.00H632.00ZM635.00 366.00H636.00V377.00H635.00ZM634.00 368.00H637.00V375.00H634.00ZM636.00 364.00H637.00V375.00H636.00ZM635.00 366.00H638.00V373.00H635.00Z" fill="#0000d8"/>
<path d="M638.00 352.00H639.00V378.00H638.00ZM637.00 356.00H640.00V374.00H637.00ZM640.00 357.00H641.00V382.00H640.00ZM639.00 361.00H642.00V378.00H639.00ZM641.00 373.00H642.00V388.00H641.00ZM640.00 375.00H643.00V386.00H640.00Z" fill="#ff0000"/>
<path d="M643.00 370.00H644.00V393.00H643.00ZM642.00 373.00H645.00V390.00H642.00ZM645.00 366.00H646.00V389.00H645.00ZM644.00 369.00H647.00V386.00H644.00ZM646.00 352.00H647.00V380.00H646.00ZM645.00 356.00H648.00V376.00H645.00ZM648.00 347.00H649.00V375.00H648.00ZM647.00 351.00H650.00V371.00H647.00ZM650.00 341.00H651.00V355.00H650.00ZM649.00 343.00H652.00V353.00H649.00ZM651.00 339.00H652.00V353.00H651.00ZM650.00 341.00H653.00V351.00H650.00ZM653.00 325.00H654.00V346.00H653.00ZM652.00 328.00H655.00V343.00H652.00Z" fill="#0000d8"/>
<path d="M655.00 312.00H656.00V341.00H655.00ZM654.00 316.00H657.00V337.00H654.00Z" fill="#ff0000"/>
<path d="M656.00 332.00H657.00V343.00H656.00ZM655.00 334.00H658.00V341.00H655.00ZM658.00 330.00H659.00V341.00H658.00ZM657.00 332.00H660.00V339.00H657.00ZM658.00 318.00H659.00V333.00H658.00ZM657.00 320.00H660.00V331.00H657.00ZM660.00 315.00H661.00V331.00H660.00ZM659.00 317.00H662.00V329.00H659.00ZM661.00 310.00H662.00V321.00H661.00ZM660.00 312.00H663.00V319.00H660.00ZM663.00 308.00H664.00V319.00H663.00ZM662.00 310.00H665.00V317.00H662.00ZM663.00 281.00H664.00V310.00H663.00ZM662.00 285.00H665.00V306.00H662.00Z" fill="#0000d8"/>
<path d="M664.00 283.00H665.00V306.00H664.00ZM663.00 286.00H666.00V303.00H663.00ZM666.00 297.00H667.00V325.00H666.00ZM665.00 301.00H668.00V321.00H665.00ZM668.00 302.00H669.00V330.00H668.00ZM667.00 306.00H670.00V326.00H667.00Z" fill="#ff0000"/>
<path d="M668.00 311.00H669.00V336.00H668.00ZM667.00 315.00H670.00V332.00H667.00ZM669.00 309.00H670.00V324.00H669.00ZM668.00 311.00H671.00V322.00H668.00ZM671.00 306.00H672.00V321.00H671.00ZM670.00 308.00H673.00V319.00H670.00ZM671.00 291.00H672.00V311.00H671.00ZM670.00 294.00H673.00V308.00H670.00ZM673.00 288.00H674.00V308.00H673.00ZM672.00 291.00H675.00V305.00H672.00ZM674.00 283.00H675.00V297.00H674.00ZM673.00 285.00H676.00V295.00H673.00ZM676.00 280.00H677.00V294.00H676.00ZM675.00 282.00H678.00V292.00H675.00Z" fill="#0000d8"/>
<path d="M678.00 271.00H679.00V289.00H678.00ZM677.00 274.00H680.00V286.00H677.00ZM679.00 289.00H680.00V316.00H679.00ZM678.00 293.00H681.00V312.00H678.00ZM681.00 294.00H682.00V321.00H681.00ZM680.00 298.00H683.00V317.00H680.00Z" fill="#ff0000"/>
<path d="M681.00 299.00H682.00V315.00H681.00ZM680.00 301.00H683.00V313.00H680.00ZM683.00 297.00H684.00V312.00H683.00ZM682.00 299.00H685.00V310.00H682.00ZM684.00 290.00H685.00V304.00H684.00ZM683.00 292.00H686.00V302.00H683.00ZM686.00 288.00H687.00V302.00H686.00ZM685.00 290.00H688.00V300.00H685.00ZM688.00 273.00H689.00V293.00H688.00ZM687.00 276.00H690.00V290.00H687.00Z" fill="#0000d8"/>
<path d="M689.00 274.00H690.00V287.00H689.00ZM688.00 276.00H691.00V285.00H688.00ZM691.00 276.00H692.00V289.00H691.00ZM690.00 278.00H693.00V287.00H690.00ZM693.00 278.00H694.00V297.00H693.00ZM692.00 281.00H695.00V294.00H692.00ZM694.00 291.00H695.00V315.00H694.00ZM693.00 295.00H696.00V311.00H693.00ZM696.00 315.00H697.00V350.00H696.00ZM695.00 320.00H698.00V345.00H695.00Z" fill="#ff0000"/>
<path d="M697.00 337.00H698.00V359.00H697.00ZM696.00 340.00H699.00V356.00H696.00Z" fill="#0000d8"/>
<path d="M699.00 330.00H700.00V344.00H699.00ZM698.00 332.00H701.00V342.00H698.00ZM701.00 332.00H702.00V346.00H701.00ZM700.00 334.00H703.00V344.00H700.00ZM702.00 333.00H703.00V346.00H702.00ZM701.00 335.00H704.00V344.00H701.00ZM704.00 336.00H705.00V348.00H704.00ZM703.00 338.00H706.00V346.00H703.00ZM704.00 355.00H705.00V367.00H704.00ZM703.00 357.00H706.00V365.00H703.00ZM706.00 344.00H707.00V366.00H706.00ZM705.00 347.00H708.00V363.00H705.00ZM706.00 357.00H707.00V375.00H706.00ZM705.00 360.00H708.00V372.00H705.00ZM707.00 348.00H708.00V370.00H707.00ZM706.00 351.00H709.00V367.00H706.00ZM707.00 364.00H708.00V377.00H707.00ZM706.00 366.00H709.00V375.00H706.00ZM707.00 368.00H708.00V381.00H707.00ZM706.00 370.00H709.00V379.00H706.00ZM709.00 370.00H710.00V383.00H709.00ZM708.00 372.00H711.00V381.00H708.00ZM711.00 377.00H712.00V390.00H711.00ZM710.00 379.00H713.00V388.00H710.00ZM712.00 379.00H713.00V392.00H712.00ZM711.00 381.00H714.00V390.00H711.00ZM712.00 390.00H713.00V410.00H712.00ZM711.00 393.00H714.00V407.00H711.00ZM714.00 393.00H715.00V414.00H714.00ZM713.00 396.00H716.00V411.00H713.00Z" fill="#ff0000"/>
<path d="M716.00 389.00H717.00V409.00H716.00ZM715.00 392.00H718.00V406.00H715.00ZM717.00 385.00H718.00V405.00H717.00ZM716.00 388.00H719.00V402.00H716.00ZM719.00 384.00H720.00V407.00H719.00ZM718.00 387.00H721.00V404.00H718.00ZM721.00 380.00H722.00V403.00H721.00ZM720.00 383.00H723.00V400.00H720.00Z" fill="#0000d8"/>
<path d="M721.00 388.00H722.00V411.00H721.00ZM720.00 391.00H723.00V408.00H720.00ZM722.00 392.00H723.00V416.00H722.00ZM721.00 396.00H724.00V412.00H721.00ZM722.00 410.00H723.00V423.00H722.00ZM721.00 412.00H724.00V421.00H721.00ZM724.00 412.00H725.00V425.00H724.00ZM723.00 414.00H726.00V423.00H723.00ZM724.00 425.00H725.00V443.00H724.00ZM723.00 428.00H726.00V440.00H723.00ZM725.00 428.00H726.00V446.00H725.00ZM724.00 431.00H727.00V443.00H724.00Z" fill="#ff0000"/>
<path d="M727.00 440.00H728.00V456.00H727.00ZM726.00 442.00H729.00V454.00H726.00ZM729.00 437.00H730.00V453.00H729.00ZM728.00 439.00H731.00V451.00H728.00ZM730.00 439.00H731.00V444.00H730.00ZM729.00 439.00H732.00V444.00H729.00ZM732.00 422.00H733.00V444.00H732.00ZM731.00 425.00H734.00V441.00H731.00Z" fill="#0000d8"/>
<path d="M734.00 416.00H735.00V434.00H734.00ZM733.00 419.00H736.00V431.00H733.00ZM735.00 425.00H736.00V438.00H735.00ZM734.00 427.00H737.00V436.00H734.00Z" fill="#ff0000"/>
<path d="M737.00 426.00H738.00V444.00H737.00ZM736.00 429.00H739.00V441.00H736.00Z" fill="#0000d8"/>
<path d="M739.00 428.00H740.00V440.00H739.00ZM738.00 430.00H741.00V438.00H738.00ZM740.00 430.00H741.00V450.00H740.00ZM739.00 433.00H742.00V447.00H739.00ZM742.00 433.00H743.00V453.00H742.00ZM741.00 436.00H744.00V450.00H741.00ZM742.00 448.00H743.00V465.00H742.00ZM741.00 451.00H744.00V462.00H741.00ZM744.00 451.00H745.00V468.00H744.00ZM743.00 454.00H746.00V465.00H743.00ZM745.00 457.00H746.00V476.00H745.00ZM744.00 460.00H747.00V473.00H744.00Z" fill="#ff0000"/>
<path d="M747.00 457.00H748.00V474.00H747.00ZM746.00 460.00H749.00V471.00H746.00Z" fill="#0000d8"/>
<path d="M749.00 453.00H750.00V466.00H749.00ZM748.00 455.00H751.00V464.00H748.00Z" fill="#ff0000"/>
<path d="M750.00 453.00H751.00V472.00H750.00ZM749.00 456.00H752.00V469.00H749.00ZM752.00 439.00H753.00V465.00H752.00ZM751.00 443.00H754.00V461.00H751.00ZM754.00 436.00H755.00V451.00H754.00ZM753.00 438.00H756.00V449.00H753.00ZM755.00 433.00H756.00V448.00H755.00ZM754.00 435.00H757.00V446.00H754.00ZM757.00 424.00H758.00V438.00H757.00ZM756.00 426.00H759.00V436.00H756.00Z" fill="#0000d8"/>
<path d="M758.00 430.00H759.00V440.00H758.00ZM757.00 430.00H760.00V440.00H757.00Z" fill="#ff0000"/>
<path d="M762.00 423.00H763.00V437.00H762.00ZM761.00 425.00H764.00V435.00H761.00ZM763.00 420.00H764.00V435.00H763.00ZM762.00 422.00H765.00V433.00H762.00ZM765.00 417.00H766.00V429.00H765.00ZM764.00 419.00H767.00V427.00H764.00ZM767.00 415.00H768.00V427.00H767.00ZM766.00 417.00H769.00V425.00H766.00Z" fill="#0000d8"/>
<path d="M768.00 422.00H769.00V433.00H768.00ZM767.00 424.00H770.00V431.00H767.00ZM770.00 422.00H771.00V442.00H770.00ZM769.00 425.00H772.00V439.00H769.00ZM772.00 426.00H773.00V446.00H772.00ZM771.00 429.00H774.00V443.00H771.00ZM773.00 440.00H774.00V456.00H773.00ZM772.00 442.00H775.00V454.00H772.00ZM775.00 442.00H776.00V459.00H775.00ZM774.00 445.00H777.00V456.00H774.00Z" fill="#ff0000"/>
<path d="M777.00 446.00H778.00V457.00H777.00ZM776.00 448.00H779.00V455.00H776.00ZM778.00 444.00H779.00V455.00H778.00ZM777.00 446.00H780.00V453.00H777.00Z" fill="#0000d8"/>
<path d="M780.00 446.00H781.00V457.00H780.00ZM779.00 448.00H782.00V455.00H779.00ZM782.00 448.00H783.00V459.00H782.00ZM781.00 450.00H784.00V457.00H781.00Z" fill="#ff0000"/>
<path d="M783.00 455.00H784.00V468.00H783.00ZM782.00 457.00H785.00V466.00H782.00ZM785.00 452.00H786.00V465.00H785.00ZM784.00 454.00H787.00V463.00H784.00Z" fill="#0000d8"/>
<path d="M786.00 452.00H787.00V464.00H786.00ZM785.00 454.00H788.00V462.00H785.00ZM788.00 454.00H789.00V466.00H788.00ZM787.00 456.00H790.00V464.00H787.00Z" fill="#ff0000"/>
<path d="M790.00 463.00H791.00V472.00H790.00ZM789.00 463.00H792.00V472.00H789.00ZM791.00 461.00H792.00V470.00H791.00ZM790.00 461.00H793.00V470.00H790.00ZM793.00 463.00H794.00V472.00H793.00ZM792.00 463.00H795.00V472.00H792.00Z" fill="#0000d8"/>
<path d="M795.00 460.00H796.00V470.00H795.00ZM794.00 460.00H797.00V470.00H794.00ZM796.00 462.00H797.00V471.00H796.00ZM795.00 462.00H798.00V471.00H795.00ZM798.00 468.00H799.00V477.00H798.00ZM797.00 468.00H800.00V477.00H797.00ZM800.00 469.00H801.00V479.00H800.00ZM799.00 469.00H802.00V479.00H799.00ZM800.00 475.00H801.00V489.00H800.00ZM799.00 477.00H802.00V487.00H799.00ZM801.00 477.00H802.00V492.00H801.00ZM800.00 479.00H803.00V490.00H800.00ZM803.00 488.00H804.00V501.00H803.00ZM802.00 490.00H805.00V499.00H802.00ZM803.00 500.00H804.00V506.00H803.00ZM802.00 500.00H805.00V506.00H802.00Z" fill="#ff0000"/>
<path d="M805.00 492.00H806.00V503.00H805.00ZM804.00 494.00H807.00V501.00H804.00ZM806.00 490.00H807.00V501.00H806.00ZM805.00 492.00H808.00V499.00H805.00Z" fill="#0000d8"/>
<path d="M808.00 501.00H809.00V515.00H808.00ZM807.00 503.00H810.00V513.00H807.00ZM810.00 508.00H811.00V522.00H810.00ZM809.00 510.00H812.00V520.00H809.00ZM811.00 510.00H812.00V525.00H811.00ZM810.00 512.00H813.00V523.00H810.00Z" fill="#ff0000"/>
<path d="M813.00 510.00H814.00V519.00H813.00ZM812.00 510.00H815.00V519.00H812.00ZM814.00 510.00H815.00V519.00H814.00ZM813.00 510.00H816.00V519.00H813.00ZM816.00 508.00H817.00V523.00H816.00ZM815.00 510.00H818.00V521.00H815.00ZM818.00 490.00H819.00V515.00H818.00ZM817.00 494.00H820.00V511.00H817.00ZM819.00 478.00H820.00V493.00H819.00ZM818.00 480.00H821.00V491.00H818.00ZM821.00 475.00H822.00V491.00H821.00ZM820.00 477.00H823.00V489.00H820.00ZM821.00 452.00H822.00V479.00H821.00ZM820.00 456.00H823.00V475.00H820.00ZM823.00 448.00H824.00V474.00H823.00ZM822.00 452.00H825.00V470.00H822.00ZM823.00 435.00H824.00V451.00H823.00ZM822.00 437.00H825.00V449.00H822.00Z" fill="#0000d8"/>
<path d="M824.00 446.00H825.00V468.00H824.00ZM823.00 449.00H826.00V465.00H823.00ZM826.00 450.00H827.00V471.00H826.00ZM825.00 453.00H828.00V468.00H825.00ZM826.00 449.00H827.00V490.00H826.00ZM825.00 455.00H828.00V484.00H825.00Z" fill="#ff0000"/>
<path d="M828.00 439.00H829.00V466.00H828.00ZM827.00 443.00H830.00V462.00H827.00ZM829.00 435.00H830.00V461.00H829.00ZM828.00 439.00H831.00V457.00H828.00Z" fill="#0000d8"/>
<path d="M829.00 429.00H830.00V453.00H829.00ZM828.00 433.00H831.00V449.00H828.00ZM831.00 433.00H832.00V457.00H831.00ZM830.00 437.00H833.00V453.00H830.00ZM831.00 448.00H832.00V462.00H831.00ZM830.00 450.00H833.00V460.00H830.00ZM833.00 450.00H834.00V464.00H833.00ZM832.00 452.00H835.00V462.00H832.00ZM833.00 462.00H834.00V478.00H833.00ZM832.00 464.00H835.00V476.00H832.00ZM834.00 465.00H835.00V480.00H834.00ZM833.00 467.00H836.00V478.00H833.00ZM834.00 471.00H835.00V484.00H834.00ZM833.00 473.00H836.00V482.00H833.00ZM836.00 474.00H837.00V486.00H836.00ZM835.00 476.00H838.00V484.00H835.00ZM838.00 480.00H839.00V491.00H838.00ZM837.00 482.00H840.00V489.00H837.00ZM839.00 482.00H840.00V493.00H839.00ZM838.00 484.00H841.00V491.00H838.00ZM841.00 490.00H842.00V504.00H841.00ZM840.00 492.00H843.00V502.00H840.00ZM843.00 493.00H844.00V505.00H843.00ZM842.00 495.00H845.00V503.00H842.00ZM844.00 495.00H845.00V507.00H844.00ZM843.00 497.00H846.00V505.00H843.00Z" fill="#ff0000"/>
<path d="M844.00 486.00H845.00V504.00H844.00ZM843.00 489.00H846.00V501.00H843.00ZM846.00 482.00H847.00V501.00H846.00ZM845.00 485.00H848.00V498.00H845.00ZM847.00 477.00H848.00V490.00H847.00ZM846.00 479.00H849.00V488.00H846.00ZM849.00 475.00H850.00V487.00H849.00ZM848.00 477.00H851.00V485.00H848.00ZM851.00 464.00H852.00V479.00H851.00ZM850.00 466.00H853.00V477.00H850.00ZM852.00 445.00H853.00V471.00H852.00ZM851.00 449.00H854.00V467.00H851.00ZM854.00 440.00H855.00V467.00H854.00ZM853.00 444.00H856.00V463.00H853.00Z" fill="#0000d8"/>
<path d="M856.00 434.00H857.00V460.00H856.00ZM855.00 438.00H858.00V456.00H855.00ZM857.00 448.00H858.00V471.00H857.00ZM856.00 451.00H859.00V468.00H856.00ZM859.00 460.00H860.00V484.00H859.00ZM858.00 464.00H861.00V480.00H858.00Z" fill="#ff0000"/>
<path d="M861.00 473.00H862.00V501.00H861.00ZM860.00 477.00H863.00V497.00H860.00ZM862.00 468.00H863.00V496.00H862.00ZM861.00 472.00H864.00V492.00H861.00Z" fill="#0000d8"/>
<path d="M864.00 471.00H865.00V487.00H864.00ZM863.00 473.00H866.00V485.00H863.00ZM866.00 474.00H867.00V490.00H866.00ZM865.00 476.00H868.00V488.00H865.00ZM867.00 477.00H868.00V501.00H867.00ZM866.00 481.00H869.00V497.00H866.00ZM869.00 490.00H870.00V510.00H869.00ZM868.00 493.00H871.00V507.00H868.00ZM871.00 493.00H872.00V514.00H871.00ZM870.00 496.00H873.00V511.00H870.00Z" fill="#ff0000"/>
<path d="M872.00 500.00H873.00V515.00H872.00ZM871.00 502.00H874.00V513.00H871.00ZM874.00 497.00H875.00V513.00H874.00ZM873.00 499.00H876.00V511.00H873.00Z" fill="#0000d8"/>
<path d="M875.00 495.00H876.00V512.00H875.00ZM874.00 498.00H877.00V509.00H874.00Z" fill="#ff0000"/>
<path d="M879.00 484.00H880.00V508.00H879.00ZM878.00 488.00H881.00V504.00H878.00Z" fill="#0000d8"/>
<path d="M880.00 479.00H881.00V505.00H880.00ZM879.00 483.00H882.00V501.00H879.00Z" fill="#ff0000"/>
<path d="M884.00 474.00H885.00V496.00H884.00ZM883.00 477.00H886.00V493.00H883.00Z" fill="#0000d8"/>
<path d="M885.00 473.00H886.00V483.00H885.00ZM884.00 473.00H887.00V483.00H884.00ZM887.00 475.00H888.00V485.00H887.00ZM886.00 475.00H889.00V485.00H886.00ZM887.00 469.00H888.00V476.00H887.00Z" fill="#ff0000"/>
<path d="M889.00 474.00H890.00V484.00H889.00ZM888.00 474.00H891.00V484.00H888.00Z" fill="#0000d8"/>
<path d="M892.00 477.00H893.00V485.00H892.00ZM891.00 477.00H894.00V485.00H891.00Z" fill="#ff0000"/>
<path d="M892.00 463.00H893.00V485.00H892.00ZM891.00 466.00H894.00V482.00H891.00Z" fill="#0000d8"/>
<path d="M894.00 460.00H895.00V471.00H894.00ZM893.00 462.00H896.00V469.00H893.00ZM895.00 462.00H896.00V473.00H895.00ZM894.00 464.00H897.00V471.00H894.00Z" fill="#ff0000"/>
<path d="M896.00 457.00H897.00V469.00H896.00ZM895.00 459.00H898.00V467.00H895.00Z" fill="#0000d8"/>
<path d="M897.00 460.00H898.00V485.00H897.00ZM896.00 464.00H899.00V481.00H896.00ZM899.00 469.00H900.00V483.00H899.00ZM898.00 471.00H901.00V481.00H898.00ZM900.00 471.00H901.00V485.00H900.00ZM899.00 473.00H902.00V483.00H899.00Z" fill="#ff0000"/>
<path d="M902.00 471.00H903.00V479.00H902.00ZM901.00 471.00H904.00V479.00H901.00Z" fill="#0000d8"/>
<path d="M904.00 475.00H905.00V483.00H904.00ZM903.00 475.00H906.00V483.00H903.00Z" fill="#ff0000"/>
<path d="M907.00 464.00H908.00V483.00H907.00ZM906.00 467.00H909.00V480.00H906.00ZM908.00 461.00H909.00V480.00H908.00ZM907.00 464.00H910.00V477.00H907.00ZM908.00 455.00H909.00V470.00H908.00ZM907.00 457.00H910.00V468.00H907.00Z" fill="#0000d8"/>
<path d="M912.00 454.00H913.00V472.00H912.00ZM911.00 457.00H914.00V469.00H911.00ZM913.00 457.00H914.00V475.00H913.00ZM912.00 460.00H915.00V472.00H912.00ZM915.00 461.00H916.00V474.00H915.00ZM914.00 463.00H917.00V472.00H914.00ZM915.00 454.00H916.00V462.00H915.00ZM917.00 463.00H918.00V476.00H917.00ZM916.00 465.00H919.00V474.00H916.00ZM918.00 465.00H919.00V481.00H918.00ZM917.00 467.00H920.00V479.00H917.00ZM920.00 468.00H921.00V484.00H920.00ZM919.00 470.00H922.00V482.00H919.00Z" fill="#ff0000"/>
<path d="M922.00 471.00H923.00V480.00H922.00ZM921.00 471.00H924.00V480.00H921.00ZM923.00 471.00H924.00V480.00H923.00ZM922.00 471.00H925.00V480.00H922.00Z" fill="#0000d8"/>
<path d="M925.00 472.00H926.00V481.00H925.00ZM924.00 472.00H927.00V481.00H924.00ZM927.00 472.00H928.00V481.00H927.00ZM926.00 472.00H929.00V481.00H926.00ZM928.00 472.00H929.00V481.00H928.00ZM927.00 472.00H930.00V481.00H927.00ZM930.00 474.00H931.00V484.00H930.00ZM929.00 474.00H932.00V484.00H929.00Z" fill="#ff0000"/>
<path d="M932.00 470.00H933.00V480.00H932.00ZM931.00 470.00H934.00V480.00H931.00ZM933.00 470.00H934.00V480.00H933.00ZM932.00 470.00H935.00V480.00H932.00ZM935.00 470.00H936.00V480.00H935.00ZM934.00 470.00H937.00V480.00H934.00ZM936.00 464.00H937.00V479.00H936.00ZM935.00 466.00H938.00V477.00H935.00ZM938.00 453.00H939.00V469.00H938.00ZM937.00 455.00H940.00V467.00H937.00ZM940.00 443.00H941.00V453.00H940.00ZM939.00 443.00H942.00V453.00H939.00ZM941.00 443.00H942.00V453.00H941.00ZM940.00 443.00H943.00V453.00H940.00ZM941.00 435.00H942.00V443.00H941.00ZM940.00 435.00H943.00V443.00H940.00ZM943.00 435.00H944.00V443.00H943.00ZM942.00 435.00H945.00V443.00H942.00ZM943.00 425.00H944.00V435.00H943.00ZM942.00 425.00H945.00V435.00H942.00ZM945.00 423.00H946.00V433.00H945.00ZM944.00 423.00H947.00V433.00H944.00ZM945.00 405.00H946.00V425.00H945.00ZM944.00 408.00H947.00V422.00H944.00ZM946.00 401.00H947.00V421.00H946.00ZM945.00 404.00H948.00V418.00H945.00ZM946.00 400.00H947.00V404.00H946.00ZM945.00 400.00H948.00V404.00H945.00Z" fill="#0000d8"/>
<path d="M948.00 377.00H949.00V399.00H948.00ZM947.00 380.00H950.00V396.00H947.00Z" fill="#ff0000"/>
<path d="M949.00 375.00H950.00V391.00H949.00Z" fill="#0000d8"/>
<path d="M950.00 381.00H951.00V403.00H950.00ZM949.00 384.00H952.00V400.00H949.00Z" fill="#ff0000"/>
<path d="M951.00 389.00H952.00V413.00H951.00ZM950.00 393.00H953.00V409.00H950.00Z" fill="#0000d8"/>
<path d="M953.00 385.00H954.00V403.00H953.00ZM952.00 388.00H955.00V400.00H952.00Z" fill="#ff0000"/>
<path d="M955.00 390.00H956.00V409.00H955.00ZM954.00 393.00H957.00V406.00H954.00ZM956.00 387.00H957.00V406.00H956.00ZM955.00 390.00H958.00V403.00H955.00Z" fill="#0000d8"/>
<path d="M958.00 391.00H959.00V405.00H958.00ZM957.00 393.00H960.00V403.00H957.00ZM960.00 394.00H961.00V408.00H960.00ZM959.00 396.00H962.00V406.00H959.00Z" fill="#ff0000"/>
<path d="M961.00 375.00H962.00V395.00H961.00ZM960.00 378.00H963.00V392.00H960.00Z" fill="#0000d8"/>
<path d="M963.00 374.00H964.00V385.00H963.00ZM962.00 376.00H965.00V383.00H962.00ZM964.00 376.00H965.00V387.00H964.00ZM963.00 378.00H966.00V385.00H963.00ZM966.00 379.00H967.00V399.00H966.00ZM965.00 382.00H968.00V396.00H965.00ZM968.00 393.00H969.00V410.00H968.00ZM967.00 396.00H970.00V407.00H967.00ZM969.00 396.00H970.00V413.00H969.00ZM968.00 399.00H971.00V410.00H968.00Z" fill="#ff0000"/>
<path d="M971.00 395.00H972.00V419.00H971.00ZM970.00 399.00H973.00V415.00H970.00Z" fill="#0000d8"/>
<path d="M974.00 393.00H975.00V403.00H974.00ZM973.00 393.00H976.00V403.00H973.00ZM976.00 393.00H977.00V403.00H976.00ZM975.00 393.00H978.00V403.00H975.00Z" fill="#ff0000"/>
<path d="M978.00 390.00H979.00V408.00H978.00ZM977.00 393.00H980.00V405.00H977.00ZM979.00 383.00H980.00V400.00H979.00ZM978.00 386.00H981.00V397.00H978.00ZM981.00 369.00H982.00V390.00H981.00ZM980.00 372.00H983.00V387.00H980.00ZM983.00 365.00H984.00V386.00H983.00ZM982.00 368.00H985.00V383.00H982.00ZM983.00 362.00H984.00V378.00H983.00ZM982.00 364.00H985.00V376.00H982.00ZM984.00 359.00H985.00V375.00H984.00ZM983.00 361.00H986.00V373.00H983.00Z" fill="#0000d8"/>
<path d="M984.00 358.00H985.00V375.00H984.00ZM983.00 361.00H986.00V372.00H983.00ZM986.00 361.00H987.00V378.00H986.00ZM985.00 364.00H988.00V375.00H985.00Z" fill="#ff0000"/>
<path d="M986.00 369.00H987.00V381.00H986.00ZM985.00 371.00H988.00V379.00H985.00ZM988.00 367.00H989.00V379.00H988.00ZM987.00 369.00H990.00V377.00H987.00Z" fill="#0000d8"/>
<path d="M988.00 367.00H989.00V379.00H988.00ZM987.00 369.00H990.00V377.00H987.00ZM989.00 369.00H990.00V382.00H989.00ZM988.00 371.00H991.00V380.00H988.00ZM989.00 370.00H990.00V388.00H989.00ZM988.00 373.00H991.00V385.00H988.00ZM991.00 373.00H992.00V392.00H991.00ZM990.00 376.00H993.00V389.00H990.00ZM991.00 382.00H992.00V396.00H991.00ZM990.00 384.00H993.00V394.00H990.00ZM993.00 384.00H994.00V398.00H993.00ZM992.00 386.00H995.00V396.00H992.00ZM994.00 388.00H995.00V413.00H994.00ZM993.00 392.00H996.00V409.00H993.00ZM996.00 395.00H997.00V418.00H996.00ZM995.00 398.00H998.00V415.00H995.00Z" fill="#ff0000"/>
<path d="M997.00 405.00H998.00V422.00H997.00ZM996.00 408.00H999.00V419.00H996.00ZM999.00 402.00H1000.00V419.00H999.00ZM998.00 405.00H1001.00V416.00H998.00Z" fill="#0000d8"/>
<path d="M1001.00 403.00H1002.00V415.00H1001.00ZM1000.00 405.00H1003.00V413.00H1000.00ZM1002.00 410.00H1003.00V421.00H1002.00ZM1001.00 412.00H1004.00V419.00H1001.00ZM1004.00 412.00H1005.00V423.00H1004.00ZM1003.00 414.00H1006.00V421.00H1003.00ZM1004.00 418.00H1005.00V433.00H1004.00ZM1003.00 420.00H1006.00V431.00H1003.00ZM1006.00 421.00H1007.00V436.00H1006.00ZM1005.00 423.00H1008.00V434.00H1005.00ZM1007.00 423.00H1008.00V432.00H1007.00ZM1006.00 423.00H1009.00V432.00H1006.00Z" fill="#ff0000"/>
<path d="M1009.00 411.00H1010.00V428.00H1009.00ZM1008.00 414.00H1011.00V425.00H1008.00ZM1011.00 408.00H1012.00V425.00H1011.00ZM1010.00 411.00H1013.00V422.00H1010.00ZM1011.00 404.00H1012.00V415.00H1011.00ZM1010.00 406.00H1013.00V413.00H1010.00ZM1012.00 402.00H1013.00V413.00H1012.00ZM1011.00 404.00H1014.00V411.00H1011.00Z" fill="#0000d8"/>
<path d="M1014.00 400.00H1015.00V410.00H1014.00ZM1013.00 400.00H1016.00V410.00H1013.00Z" fill="#ff0000"/>
<path d="M1016.00 392.00H1017.00V404.00H1016.00ZM1015.00 394.00H1018.00V402.00H1015.00Z" fill="#0000d8"/>
</g>
<polyline points="8.50,266.30 9.80,266.31 11.69,266.33 13.88,266.36 16.08,266.37 17.98,266.35 19.30,266.30 19.89,266.19 19.95,266.03 19.73,265.85 19.44,265.67 19.32,265.51 19.60,265.40 20.35,265.38 21.39,265.44 22.61,265.53 23.86,265.59 25.04,265.56 26.00,265.40 26.76,265.02 27.41,264.44 27.98,263.78 28.48,263.15 28.95,262.65 29.40,262.40 29.80,262.46 30.12,262.74 30.40,263.16 30.68,263.63 31.00,264.04 31.40,264.30 31.89,264.40 32.44,264.40 33.04,264.35 33.64,264.29 34.24,264.26 34.80,264.30 35.30,264.42 35.76,264.59 36.21,264.79 36.68,265.01 37.20,265.22 37.80,265.40 38.49,265.56 39.25,265.71 40.06,265.85 40.90,265.99 41.76,266.14 42.60,266.30 43.47,266.47 44.39,266.66 45.31,266.84 46.21,267.03 47.06,267.22 47.80,267.40 48.41,267.57 48.90,267.74 49.32,267.91 49.75,268.08 50.22,268.24 50.80,268.40 51.52,268.55 52.33,268.70 53.20,268.85 54.07,269.00 54.88,269.15 55.60,269.30 56.18,269.46 56.66,269.63 57.09,269.79 57.53,269.96 58.01,270.13 58.60,270.30 59.29,270.46 60.03,270.62 60.83,270.78 61.68,270.94 62.57,271.12 63.50,271.30 64.47,271.50 65.49,271.71 66.56,271.94 67.66,272.16 68.81,272.39 70.00,272.60 71.28,272.79 72.66,272.94 74.08,273.10 75.48,273.28 76.81,273.50 78.00,273.80 79.06,274.16 80.04,274.56 80.94,275.01 81.77,275.51 82.56,276.08 83.30,276.70 83.97,277.35 84.55,278.03 85.07,278.76 85.59,279.59 86.11,280.55 86.70,281.70 87.35,283.08 88.04,284.66 88.75,286.39 89.46,288.18 90.15,289.98 90.80,291.70 91.42,293.39 92.02,295.10 92.60,296.81 93.16,298.49 93.69,300.13 94.20,301.70 94.66,303.21 95.08,304.68 95.48,306.10 95.86,307.47 96.26,308.77 96.70,310.00 97.18,311.16 97.69,312.26 98.21,313.29 98.73,314.26 99.23,315.17 99.70,316.00 100.10,316.71 100.44,317.29 100.76,317.80 101.10,318.31 101.50,318.89 102.00,319.60 102.62,320.51 103.34,321.59 104.11,322.74 104.92,323.85 105.72,324.84 106.50,325.60 107.26,326.11 108.04,326.44 108.81,326.64 109.57,326.77 110.31,326.87 111.00,327.00 111.64,327.04 112.24,326.94 112.81,326.81 113.37,326.77 113.93,326.96 114.50,327.50 115.09,328.39 115.69,329.54 116.28,330.91 116.87,332.46 117.45,334.17 118.00,336.00 118.52,337.97 119.00,340.11 119.47,342.41 119.94,344.83 120.45,347.37 121.00,350.00 121.60,352.77 122.23,355.72 122.89,358.78 123.58,361.88 124.28,364.98 125.00,368.00 125.75,371.27 126.53,374.90 127.33,378.52 128.14,381.76 128.93,384.25 129.70,385.60 130.41,385.48 131.08,384.10 131.74,381.98 132.42,379.59 133.16,377.43 134.00,376.00 134.96,375.34 136.00,375.06 137.11,375.01 138.25,375.04 139.39,375.02 140.50,374.80 141.61,374.26 142.76,373.49 143.91,372.67 145.02,371.95 146.06,371.51 147.00,371.50 147.80,371.96 148.49,372.77 149.11,373.86 149.71,375.14 150.32,376.54 151.00,378.00 151.72,379.63 152.46,381.52 153.21,383.53 153.99,385.54 154.82,387.40 155.70,389.00 156.68,390.51 157.75,392.07 158.86,393.50 159.97,394.59 161.04,395.16 162.00,395.00 162.81,394.00 163.49,392.30 164.11,390.06 164.77,387.48 165.54,384.73 166.50,382.00 167.66,379.11 168.94,375.89 170.34,372.50 171.83,369.11 173.39,365.89 175.00,363.00 176.71,360.34 178.56,357.74 180.47,355.31 182.39,353.15 184.25,351.34 186.00,350.00 187.62,349.21 189.15,348.93 190.62,349.00 192.07,349.30 193.52,349.68 195.00,350.00 196.55,350.28 198.16,350.63 199.78,351.06 201.33,351.59 202.75,352.23 204.00,353.00 204.99,353.74 205.77,354.42 206.43,355.21 207.05,356.29 207.75,357.83 208.60,360.00 209.63,363.11 210.76,367.09 211.95,371.52 213.18,376.02 214.41,380.18 215.60,383.60 216.79,386.12 218.02,388.02 219.24,389.59 220.44,391.09 221.57,392.80 222.60,395.00 223.49,397.81 224.25,401.04 224.95,404.49 225.65,407.93 226.41,411.17 227.30,414.00 228.31,416.41 229.38,418.59 230.51,420.55 231.71,422.35 232.97,424.02 234.30,425.60 235.72,427.02 237.23,428.23 238.80,429.32 240.41,430.36 242.02,431.42 243.60,432.60 245.19,434.02 246.81,435.66 248.44,437.32 250.04,438.83 251.57,440.02 253.00,440.70 254.31,440.64 255.51,439.94 256.65,438.92 257.76,437.88 258.86,437.13 260.00,437.00 261.18,437.81 262.38,439.39 263.58,441.27 264.76,442.97 265.91,444.04 267.00,444.00 268.02,442.80 268.99,440.81 269.92,438.19 270.83,435.07 271.75,431.63 272.70,428.00 273.68,424.06 274.68,419.67 275.68,414.94 276.68,410.00 277.65,404.98 278.60,400.00 279.52,394.75 280.41,389.07 281.29,383.31 282.14,377.81 282.98,372.93 283.80,369.00 284.60,366.21 285.38,364.31 286.14,363.02 286.89,362.06 287.60,361.15 288.30,360.00 288.94,358.82 289.53,357.89 290.09,356.99 290.66,355.96 291.29,354.59 292.00,352.70 292.82,350.17 293.74,347.12 294.70,343.74 295.67,340.21 296.62,336.70 297.50,333.40 298.31,330.35 299.07,327.41 299.80,324.49 300.52,321.51 301.25,318.38 302.00,315.00 302.78,311.09 303.59,306.66 304.40,302.07 305.20,297.69 305.97,293.88 306.70,291.00 307.35,289.28 307.94,288.46 308.49,288.22 309.06,288.20 309.68,288.08 310.40,287.50 311.25,286.49 312.20,285.31 313.21,284.03 314.22,282.69 315.17,281.33 316.00,280.00 316.70,278.74 317.31,277.52 317.86,276.28 318.39,274.98 318.92,273.57 319.50,272.00 320.11,270.25 320.71,268.37 321.33,266.38 321.96,264.30 322.61,262.16 323.30,260.00 324.02,257.78 324.78,255.46 325.56,253.09 326.36,250.70 327.17,248.32 328.00,246.00 328.85,243.75 329.71,241.54 330.60,239.34 331.50,237.14 332.40,234.90 333.30,232.60 334.20,230.42 335.11,228.41 336.03,226.36 336.95,224.07 337.88,221.32 338.80,217.90 339.75,213.47 340.74,208.12 341.74,202.32 342.70,196.51 343.60,191.15 344.40,186.70 345.07,183.36 345.64,180.81 346.14,178.71 346.63,176.72 347.13,174.50 347.70,171.70 348.36,168.13 349.07,164.03 349.80,159.69 350.52,155.42 351.20,151.52 351.80,148.30 352.30,145.78 352.72,143.73 353.09,142.04 353.46,140.64 353.85,139.42 354.30,138.30 354.83,137.30 355.40,136.52 356.00,135.92 356.60,135.48 357.18,135.18 357.70,135.00 358.17,134.93 358.61,135.00 359.02,135.20 359.41,135.55 359.81,136.05 360.20,136.70 360.61,137.52 361.02,138.51 361.43,139.66 361.82,140.93 362.18,142.32 362.50,143.80 362.76,145.44 362.96,147.27 363.14,149.22 363.30,151.20 363.48,153.16 363.70,155.00 363.94,156.66 364.20,158.16 364.46,159.64 364.75,161.19 365.06,162.94 365.40,165.00 365.78,167.42 366.20,170.11 366.64,173.00 367.09,176.00 367.55,179.03 368.00,182.00 368.43,184.73 368.83,187.26 369.24,189.81 369.68,192.63 370.16,195.95 370.70,200.00 371.34,205.12 372.05,211.17 372.81,217.73 373.58,224.35 374.32,230.58 375.00,236.00 375.61,240.55 376.20,244.59 376.75,248.25 377.28,251.66 377.80,254.97 378.30,258.30 378.78,261.59 379.24,264.73 379.68,267.75 380.11,270.72 380.55,273.68 381.00,276.70 381.43,279.65 381.82,282.46 382.22,285.27 382.67,288.21 383.21,291.41 383.90,295.00 384.78,299.06 385.84,303.52 386.99,308.23 388.17,313.07 389.30,317.90 390.30,322.60 391.20,327.38 392.05,332.38 392.85,337.38 393.60,342.14 394.28,346.43 394.90,350.00 395.40,352.71 395.78,354.72 396.09,356.26 396.41,357.54 396.79,358.82 397.30,360.30 397.96,361.97 398.72,363.65 399.55,365.31 400.40,366.94 401.23,368.51 402.00,370.00 402.70,371.21 403.37,372.12 404.02,372.97 404.67,374.01 405.32,375.51 406.00,377.70 406.66,380.81 407.29,384.68 407.92,389.00 408.60,393.45 409.38,397.72 410.30,401.50 411.39,405.13 412.62,408.95 413.95,412.58 415.32,415.67 416.69,417.87 418.00,418.80 419.27,418.01 420.55,415.69 421.82,412.47 423.08,408.98 424.31,405.85 425.50,403.70 426.62,402.69 427.66,402.33 428.68,402.33 429.71,402.39 430.80,402.22 432.00,401.50 433.37,400.15 434.90,398.39 436.49,396.38 438.04,394.31 439.48,392.36 440.70,390.70 441.67,389.20 442.47,387.69 443.14,386.30 443.75,385.14 444.35,384.33 445.00,384.00 445.67,384.22 446.30,384.91 446.93,385.96 447.57,387.23 448.25,388.62 449.00,390.00 449.83,391.46 450.72,393.11 451.66,394.88 452.61,396.67 453.57,398.40 454.50,400.00 455.42,401.30 456.33,402.35 457.24,403.34 458.16,404.48 459.08,405.97 460.00,408.00 460.91,410.71 461.80,413.96 462.70,417.56 463.62,421.31 464.58,425.03 465.60,428.50 466.73,432.10 467.97,436.06 469.25,439.97 470.51,443.45 471.68,446.09 472.70,447.50 473.52,447.44 474.18,446.17 474.75,444.07 475.31,441.50 475.94,438.82 476.70,436.40 477.64,433.87 478.69,430.87 479.81,427.76 480.93,424.91 482.02,422.67 483.00,421.40 483.87,421.33 484.68,422.22 485.44,423.72 486.19,425.49 486.93,427.20 487.70,428.50 488.51,429.47 489.34,430.39 490.17,431.24 490.99,432.01 491.77,432.67 492.50,433.20 493.11,433.33 493.61,433.02 494.07,432.61 494.58,432.41 495.19,432.77 496.00,434.00 497.06,436.68 498.34,440.67 499.72,445.20 501.13,449.53 502.45,452.92 503.60,454.60 504.53,454.30 505.31,452.56 506.01,449.87 506.69,446.72 507.43,443.60 508.30,441.00 509.34,438.74 510.52,436.38 511.76,434.06 512.97,431.89 514.07,429.99 515.00,428.50 515.67,427.61 516.13,427.28 516.48,427.22 516.84,427.17 517.31,426.85 518.00,426.00 518.94,424.50 520.04,422.56 521.25,420.34 522.52,418.06 523.79,415.88 525.00,414.00 526.17,412.25 527.33,410.44 528.50,408.75 529.67,407.33 530.83,406.36 532.00,406.00 533.17,406.36 534.33,407.33 535.50,408.75 536.67,410.44 537.83,412.25 539.00,414.00 540.19,415.84 541.41,417.93 542.62,420.12 543.81,422.30 544.95,424.30 546.00,426.00 546.91,427.15 547.70,427.81 548.44,428.31 549.19,428.96 550.02,430.09 551.00,432.00 552.16,435.12 553.44,439.26 554.81,443.88 556.22,448.41 557.63,452.30 559.00,455.00 560.33,456.41 561.67,456.96 563.00,456.88 564.33,456.37 565.67,455.67 567.00,455.00 568.36,454.20 569.74,453.05 571.12,451.71 572.48,450.33 573.78,449.04 575.00,448.00 576.10,447.27 577.10,446.76 578.04,446.34 578.98,445.91 579.95,445.37 581.00,444.60 582.16,443.72 583.40,442.84 584.67,441.84 585.94,440.61 587.16,439.03 588.30,437.00 589.35,434.30 590.33,430.99 591.27,427.33 592.18,423.59 593.09,420.06 594.00,417.00 594.90,414.41 595.75,412.07 596.60,409.92 597.47,407.93 598.39,406.04 599.40,404.20 600.51,402.48 601.69,400.93 602.93,399.49 604.20,398.07 605.46,396.60 606.70,395.00 607.94,393.23 609.20,391.33 610.46,389.38 611.70,387.46 612.89,385.64 614.00,384.00 615.02,382.38 615.97,380.68 616.86,379.08 617.73,377.77 618.60,376.91 619.50,376.70 620.44,377.31 621.40,378.65 622.36,380.44 623.30,382.44 624.19,384.38 625.00,386.00 625.70,387.51 626.30,389.16 626.85,390.76 627.40,392.09 628.00,392.97 628.70,393.20 629.51,392.59 630.40,391.28 631.34,389.51 632.30,387.53 633.26,385.61 634.20,384.00 635.12,382.56 636.03,381.06 636.95,379.61 637.87,378.32 638.78,377.32 639.70,376.70 640.64,376.75 641.60,377.44 642.56,378.41 643.49,379.29 644.38,379.74 645.20,379.40 645.91,378.14 646.52,376.22 647.09,373.87 647.66,371.30 648.28,368.74 649.00,366.40 649.84,364.26 650.77,362.12 651.76,359.99 652.76,357.87 653.75,355.74 654.70,353.60 655.60,351.50 656.48,349.44 657.35,347.38 658.22,345.27 659.10,343.06 660.00,340.70 660.92,338.07 661.85,335.20 662.79,332.22 663.74,329.29 664.71,326.57 665.70,324.20 666.72,322.29 667.78,320.73 668.86,319.37 669.93,318.06 670.98,316.66 672.00,315.00 672.98,312.91 673.93,310.46 674.86,307.91 675.77,305.52 676.69,303.53 677.60,302.20 678.51,301.78 679.41,302.12 680.30,302.86 681.19,303.66 682.09,304.16 683.00,304.00 683.94,303.06 684.92,301.61 685.91,299.85 686.87,298.01 687.77,296.32 688.60,295.00 689.32,293.83 689.94,292.60 690.51,291.51 691.06,290.77 691.65,290.60 692.30,291.20 693.02,292.78 693.77,295.20 694.54,298.18 695.34,301.45 696.16,304.72 697.00,307.70 697.87,310.49 698.78,313.34 699.71,316.18 700.63,318.97 701.54,321.66 702.40,324.20 703.22,326.49 704.02,328.55 704.80,330.51 705.56,332.49 706.29,334.61 707.00,337.00 707.67,339.68 708.30,342.56 708.91,345.58 709.52,348.70 710.14,351.85 710.80,355.00 711.47,358.26 712.14,361.71 712.83,365.20 713.56,368.59 714.34,371.74 715.20,374.50 716.16,376.65 717.21,378.26 718.32,379.62 719.46,381.05 720.59,382.84 721.70,385.30 722.80,388.63 723.91,392.62 725.02,396.98 726.11,401.40 727.18,405.57 728.20,409.20 729.15,412.35 730.04,415.28 730.91,417.97 731.77,420.39 732.65,422.50 733.60,424.30 734.62,425.55 735.69,426.24 736.79,426.63 737.90,426.99 738.97,427.59 740.00,428.70 740.97,430.38 741.90,432.44 742.81,434.73 743.70,437.13 744.59,439.50 745.50,441.70 746.42,443.95 747.34,446.39 748.26,448.80 749.18,450.96 750.09,452.63 751.00,453.60 751.88,453.76 752.74,453.29 753.59,452.33 754.45,451.05 755.35,449.62 756.30,448.20 757.34,446.65 758.46,444.81 759.61,442.82 760.74,440.81 761.82,438.93 762.80,437.30 763.63,435.79 764.34,434.24 765.00,432.83 765.66,431.68 766.37,430.95 767.20,430.80 768.14,431.40 769.13,432.66 770.19,434.34 771.30,436.20 772.47,438.00 773.70,439.50 775.01,440.66 776.41,441.67 777.86,442.62 779.35,443.60 780.84,444.69 782.30,446.00 783.80,447.62 785.37,449.51 786.94,451.52 788.44,453.51 789.82,455.31 791.00,456.80 791.92,457.87 792.63,458.63 793.20,459.21 793.73,459.76 794.30,460.41 795.00,461.30 795.82,462.38 796.69,463.52 797.59,464.76 798.54,466.15 799.51,467.71 800.50,469.50 801.55,471.60 802.67,473.99 803.81,476.56 804.94,479.20 806.02,481.78 807.00,484.20 807.85,486.50 808.61,488.77 809.31,491.00 810.00,493.14 810.72,495.15 811.50,497.00 812.36,498.92 813.26,500.99 814.19,502.92 815.13,504.47 816.07,505.35 817.00,505.30 817.92,504.09 818.83,501.90 819.75,499.05 820.67,495.85 821.58,492.63 822.50,489.70 823.43,486.92 824.37,484.00 825.31,481.05 826.23,478.19 827.14,475.54 828.00,473.20 828.81,471.01 829.57,468.84 830.31,466.88 831.04,465.30 831.80,464.28 832.60,464.00 833.44,464.66 834.30,466.17 835.18,468.24 836.09,470.59 837.03,472.93 838.00,475.00 839.03,477.02 840.12,479.28 841.24,481.53 842.37,483.56 843.46,485.12 844.50,486.00 845.45,486.12 846.34,485.66 847.19,484.74 848.06,483.49 848.98,482.03 850.00,480.50 851.12,478.56 852.33,476.03 853.59,473.30 854.87,470.75 856.15,468.75 857.40,467.70 858.62,467.65 859.84,468.30 861.06,469.51 862.27,471.13 863.48,473.01 864.70,475.00 865.94,477.33 867.20,480.19 868.46,483.29 869.69,486.40 870.88,489.26 872.00,491.60 873.01,493.54 873.93,495.32 874.79,496.84 875.66,498.01 876.58,498.76 877.60,499.00 878.76,498.52 880.02,497.36 881.34,495.77 882.64,494.01 883.88,492.34 885.00,491.00 885.96,490.03 886.81,489.22 887.59,488.50 888.35,487.78 889.14,486.97 890.00,486.00 890.94,484.75 891.93,483.28 892.94,481.72 893.96,480.22 894.99,478.93 896.00,478.00 897.02,477.47 898.07,477.24 899.12,477.22 900.15,477.31 901.12,477.44 902.00,477.50 902.76,477.62 903.41,477.91 904.00,478.22 904.59,478.43 905.24,478.40 906.00,478.00 906.91,477.07 907.93,475.67 909.00,474.03 910.07,472.39 911.09,470.97 912.00,470.00 912.76,469.49 913.41,469.26 914.00,469.25 914.59,469.41 915.24,469.68 916.00,470.00 916.86,470.45 917.78,471.07 918.75,471.81 919.78,472.59 920.86,473.34 922.00,474.00 923.28,474.60 924.70,475.22 926.19,475.81 927.63,476.33 928.93,476.74 930.00,477.00 930.78,477.13 931.33,477.19 931.75,477.12 932.11,476.93 932.50,476.56 933.00,476.00 933.61,475.24 934.26,474.30 934.94,473.19 935.63,471.93 936.32,470.53 937.00,469.00 937.67,467.34 938.33,465.52 939.00,463.56 939.67,461.48 940.33,459.29 941.00,457.00 941.67,454.56 942.33,451.96 943.00,449.25 943.67,446.48 944.33,443.71 945.00,441.00 945.67,438.26 946.33,435.44 947.00,432.62 947.67,429.89 948.33,427.32 949.00,425.00 949.67,422.96 950.33,421.15 951.00,419.50 951.67,417.96 952.33,416.48 953.00,415.00 953.67,413.55 954.33,412.19 955.00,410.88 955.67,409.59 956.33,408.31 957.00,407.00 957.67,405.66 958.33,404.30 959.00,402.94 959.67,401.59 960.33,400.28 961.00,399.00 961.68,397.68 962.37,396.30 963.06,394.94 963.74,393.70 964.39,392.69 965.00,392.00 965.56,391.67 966.07,391.63 966.56,391.81 967.04,392.15 967.51,392.57 968.00,393.00 968.49,393.53 968.96,394.22 969.44,395.00 969.93,395.78 970.44,396.47 971.00,397.00 971.61,397.37 972.27,397.64 972.95,397.82 973.64,397.94 974.33,398.00 975.00,398.00 975.62,398.07 976.19,398.22 976.76,398.31 977.36,398.19 978.03,397.74 978.80,396.80 979.73,395.14 980.80,392.83 981.93,390.18 983.06,387.50 984.11,385.10 985.00,383.30 985.70,382.03 986.25,381.01 986.73,380.29 987.18,379.86 987.69,379.76 988.30,380.00 989.02,380.65 989.78,381.72 990.59,383.11 991.44,384.73 992.35,386.49 993.30,388.30 994.34,390.30 995.47,392.58 996.65,395.00 997.83,397.42 998.96,399.70 1000.00,401.70 1000.93,403.40 1001.79,404.90 1002.61,406.27 1003.40,407.54 1004.19,408.77 1005.00,410.00 1005.84,411.36 1006.70,412.82 1007.56,414.24 1008.41,415.46 1009.22,416.33 1010.00,416.70 1010.74,416.41 1011.46,415.54 1012.14,414.32 1012.80,412.98 1013.42,411.73 1014.00,410.80 1014.56,410.16 1015.10,409.62 1015.60,409.18 1016.05,408.82 1016.42,408.53 1016.70,408.30" fill="none" stroke="#aa2020" stroke-width="1" stroke-linejoin="round" shape-rendering="crispEdges"/>
<g shape-rendering="crispEdges" stroke="#000">
<rect x="1.5" y="30.5" width="1024" height="514" fill="none"/>
<line x1="1026" y1="539.5" x2="1027" y2="539.5"/>
<line x1="0" y1="539.5" x2="1" y2="539.5"/>
<line x1="1026" y1="529.5" x2="1028" y2="529.5"/>
<line x1="0" y1="529.5" x2="1" y2="529.5"/>
<line x1="1026" y1="518.5" x2="1027" y2="518.5"/>
<line x1="0" y1="518.5" x2="1" y2="518.5"/>
<line x1="1026" y1="508.5" x2="1027" y2="508.5"/>
<line x1="0" y1="508.5" x2="1" y2="508.5"/>
<line x1="1026" y1="498.5" x2="1027" y2="498.5"/>
<line x1="0" y1="498.5" x2="1" y2="498.5"/>
<line x1="1026" y1="488.5" x2="1027" y2="488.5"/>
<line x1="0" y1="488.5" x2="1" y2="488.5"/>
<line x1="1026" y1="478.5" x2="1028" y2="478.5"/>
<line x1="0" y1="478.5" x2="1" y2="478.5"/>
<line x1="1026" y1="467.5" x2="1027" y2="467.5"/>
<line x1="0" y1="467.5" x2="1" y2="467.5"/>
<line x1="1026" y1="457.5" x2="1027" y2="457.5"/>
<line x1="0" y1="457.5" x2="1" y2="457.5"/>
<line x1="1026" y1="447.5" x2="1027" y2="447.5"/>
<line x1="0" y1="447.5" x2="1" y2="447.5"/>
<line x1="1026" y1="437.5" x2="1027" y2="437.5"/>
<line x1="0" y1="437.5" x2="1" y2="437.5"/>
<line x1="1026" y1="427.5" x2="1028" y2="427.5"/>
<line x1="0" y1="427.5" x2="1" y2="427.5"/>
<line x1="1026" y1="417.5" x2="1027" y2="417.5"/>
<line x1="0" y1="417.5" x2="1" y2="417.5"/>
<line x1="1026" y1="407.5" x2="1027" y2="407.5"/>
<line x1="0" y1="407.5" x2="1" y2="407.5"/>
<line x1="1026" y1="397.5" x2="1027" y2="397.5"/>
<line x1="0" y1="397.5" x2="1" y2="397.5"/>
<line x1="1026" y1="387.5" x2="1027" y2="387.5"/>
<line x1="0" y1="387.5" x2="1" y2="387.5"/>
<line x1="1026" y1="377.5" x2="1028" y2="377.5"/>
<line x1="0" y1="377.5" x2="1" y2="377.5"/>
<line x1="1026" y1="366.5" x2="1027" y2="366.5"/>
<line x1="0" y1="366.5" x2="1" y2="366.5"/>
<line x1="1026" y1="356.5" x2="1027" y2="356.5"/>
<line x1="0" y1="356.5" x2="1" y2="356.5"/>
<line x1="1026" y1="346.5" x2="1027" y2="346.5"/>
<line x1="0" y1="346.5" x2="1" y2="346.5"/>
<line x1="1026" y1="336.5" x2="1027" y2="336.5"/>
<line x1="0" y1="336.5" x2="1" y2="336.5"/>
<line x1="1026" y1="326.5" x2="1028" y2="326.5"/>
<line x1="0" y1="326.5" x2="1" y2="326.5"/>
<line x1="1026" y1="316.5" x2="1027" y2="316.5"/>
<line x1="0" y1="316.5" x2="1" y2="316.5"/>
<line x1="1026" y1="306.5" x2="1027" y2="306.5"/>
<line x1="0" y1="306.5" x2="1" y2="306.5"/>
<line x1="1026" y1="296.5" x2="1027" y2="296.5"/>
<line x1="0" y1="296.5" x2="1" y2="296.5"/>
<line x1="1026" y1="286.5" x2="1027" y2="286.5"/>
<line x1="0" y1="286.5" x2="1" y2="286.5"/>
<line x1="1026" y1="276.5" x2="1028" y2="276.5"/>
<line x1="0" y1="276.5" x2="1" y2="276.5"/>
<line x1="1026" y1="265.5" x2="1027" y2="265.5"/>
<line x1="0" y1="265.5" x2="1" y2="265.5"/>
<line x1="1026" y1="255.5" x2="1027" y2="255.5"/>
<line x1="0" y1="255.5" x2="1" y2="255.5"/>
<line x1="1026" y1="245.5" x2="1027" y2="245.5"/>
<line x1="0" y1="245.5" x2="1" y2="245.5"/>
<line x1="1026" y1="235.5" x2="1027" y2="235.5"/>
<line x1="0" y1="235.5" x2="1" y2="235.5"/>
<line x1="1026" y1="225.5" x2="1028" y2="225.5"/>
<line x1="0" y1="225.5" x2="1" y2="225.5"/>
<line x1="1026" y1="215.5" x2="1027" y2="215.5"/>
<line x1="0" y1="215.5" x2="1" y2="215.5"/>
<line x1="1026" y1="205.5" x2="1027" y2="205.5"/>
<line x1="0" y1="205.5" x2="1" y2="205.5"/>
<line x1="1026" y1="195.5" x2="1027" y2="195.5"/>
<line x1="0" y1="195.5" x2="1" y2="195.5"/>
<line x1="1026" y1="185.5" x2="1027" y2="185.5"/>
<line x1="0" y1="185.5" x2="1" y2="185.5"/>
<line x1="1026" y1="175.5" x2="1028" y2="175.5"/>
<line x1="0" y1="175.5" x2="1" y2="175.5"/>
<line x1="1026" y1="164.5" x2="1027" y2="164.5"/>
<line x1="0" y1="164.5" x2="1" y2="164.5"/>
<line x1="1026" y1="154.5" x2="1027" y2="154.5"/>
<line x1="0" y1="154.5" x2="1" y2="154.5"/>
<line x1="1026" y1="144.5" x2="1027" y2="144.5"/>
<line x1="0" y1="144.5" x2="1" y2="144.5"/>
<line x1="1026" y1="134.5" x2="1027" y2="134.5"/>
<line x1="0" y1="134.5" x2="1" y2="134.5"/>
<line x1="1026" y1="124.5" x2="1028" y2="124.5"/>
<line x1="0" y1="124.5" x2="1" y2="124.5"/>
<line x1="1026" y1="114.5" x2="1027" y2="114.5"/>
<line x1="0" y1="114.5" x2="1" y2="114.5"/>
<line x1="1026" y1="104.5" x2="1027" y2="104.5"/>
<line x1="0" y1="104.5" x2="1" y2="104.5"/>
<line x1="1026" y1="94.5" x2="1027" y2="94.5"/>
<line x1="0" y1="94.5" x2="1" y2="94.5"/>
<line x1="1026" y1="84.5" x2="1027" y2="84.5"/>
<line x1="0" y1="84.5" x2="1" y2="84.5"/>
<line x1="1026" y1="74.5" x2="1028" y2="74.5"/>
<line x1="0" y1="74.5" x2="1" y2="74.5"/>
<line x1="1026" y1="63.5" x2="1027" y2="63.5"/>
<line x1="0" y1="63.5" x2="1" y2="63.5"/>
<line x1="1026" y1="53.5" x2="1027" y2="53.5"/>
<line x1="0" y1="53.5" x2="1" y2="53.5"/>
<line x1="1026" y1="43.5" x2="1027" y2="43.5"/>
<line x1="0" y1="43.5" x2="1" y2="43.5"/>
<line x1="1026" y1="33.5" x2="1027" y2="33.5"/>
<line x1="0" y1="33.5" x2="1" y2="33.5"/>
<line x1="9.5" y1="545" x2="9.5" y2="549"/>
<line x1="35.5" y1="545" x2="35.5" y2="549"/>
<line x1="95.5" y1="545" x2="95.5" y2="549"/>
<line x1="134.5" y1="545" x2="134.5" y2="549"/>
<line x1="174.5" y1="545" x2="174.5" y2="549"/>
<line x1="213.5" y1="545" x2="213.5" y2="549"/>
<line x1="253.5" y1="545" x2="253.5" y2="549"/>
<line x1="292.5" y1="545" x2="292.5" y2="549"/>
<line x1="332.5" y1="545" x2="332.5" y2="549"/>
<line x1="372.5" y1="545" x2="372.5" y2="549"/>
<line x1="411.5" y1="545" x2="411.5" y2="549"/>
<line x1="451.5" y1="545" x2="451.5" y2="549"/>
<line x1="490.5" y1="545" x2="490.5" y2="549"/>
<line x1="530.5" y1="545" x2="530.5" y2="549"/>
<line x1="569.5" y1="545" x2="569.5" y2="549"/>
<line x1="609.5" y1="545" x2="609.5" y2="549"/>
<line x1="649.5" y1="545" x2="649.5" y2="549"/>
<line x1="688.5" y1="545" x2="688.5" y2="549"/>
<line x1="728.5" y1="545" x2="728.5" y2="549"/>
<line x1="767.5" y1="545" x2="767.5" y2="549"/>
<line x1="807.5" y1="545" x2="807.5" y2="549"/>
<line x1="846.5" y1="545" x2="846.5" y2="549"/>
<line x1="886.5" y1="545" x2="886.5" y2="549"/>
<line x1="925.5" y1="545" x2="925.5" y2="549"/>
<line x1="965.5" y1="545" x2="965.5" y2="549"/>
<line x1="1005.5" y1="545" x2="1005.5" y2="549"/>
</g>
<defs><filter id="crisp" x="0" y="0" width="100%" height="100%" filterUnits="userSpaceOnUse"><feComponentTransfer><feFuncA type="discrete" tableValues="0 0 0 1 1"/></feComponentTransfer></filter><filter id="crispA" x="0" y="0" width="100%" height="100%" filterUnits="userSpaceOnUse"><feComponentTransfer><feFuncA type="discrete" tableValues="0 0 0 0 0 1 1 1 1 1"/></feComponentTransfer></filter><filter id="crispC" x="0" y="0" width="100%" height="100%" filterUnits="userSpaceOnUse"><feComponentTransfer><feFuncA type="discrete" tableValues="0 0 0 0 0 1 1 1 1 1"/></feComponentTransfer></filter></defs>
<g font-size="12" fill="#000" filter="url(#crispA)">
<text x="1031" y="534" textLength="14.76" lengthAdjust="spacingAndGlyphs">70</text>
<text x="1031" y="483" textLength="14.76" lengthAdjust="spacingAndGlyphs">80</text>
<text x="1031" y="432" textLength="14.76" lengthAdjust="spacingAndGlyphs">90</text>
<text x="1031" y="382" textLength="22.14" lengthAdjust="spacingAndGlyphs">100</text>
<text x="1031" y="331" textLength="22.14" lengthAdjust="spacingAndGlyphs">110</text>
<text x="1031" y="281" textLength="22.14" lengthAdjust="spacingAndGlyphs">120</text>
<text x="1031" y="230" textLength="22.14" lengthAdjust="spacingAndGlyphs">130</text>
<text x="1031" y="180" textLength="22.14" lengthAdjust="spacingAndGlyphs">140</text>
<text x="1031" y="129" textLength="22.14" lengthAdjust="spacingAndGlyphs">150</text>
<text x="1031" y="79" textLength="22.14" lengthAdjust="spacingAndGlyphs">160</text>
<text x="22" y="563" textLength="29.94" lengthAdjust="spacingAndGlyphs">1970</text>
<text x="82" y="563" textLength="29.94" lengthAdjust="spacingAndGlyphs">1972</text>
<text x="121" y="563" textLength="29.94" lengthAdjust="spacingAndGlyphs">1974</text>
<text x="161" y="563" textLength="29.94" lengthAdjust="spacingAndGlyphs">1976</text>
<text x="200" y="563" textLength="29.94" lengthAdjust="spacingAndGlyphs">1978</text>
<text x="240" y="563" textLength="29.94" lengthAdjust="spacingAndGlyphs">1980</text>
<text x="279" y="563" textLength="29.94" lengthAdjust="spacingAndGlyphs">1982</text>
<text x="319" y="563" textLength="29.94" lengthAdjust="spacingAndGlyphs">1984</text>
<text x="359" y="563" textLength="29.94" lengthAdjust="spacingAndGlyphs">1986</text>
<text x="398" y="563" textLength="29.94" lengthAdjust="spacingAndGlyphs">1988</text>
<text x="438" y="563" textLength="29.94" lengthAdjust="spacingAndGlyphs">1990</text>
<text x="477" y="563" textLength="29.94" lengthAdjust="spacingAndGlyphs">1992</text>
<text x="517" y="563" textLength="29.94" lengthAdjust="spacingAndGlyphs">1994</text>
<text x="556" y="563" textLength="29.94" lengthAdjust="spacingAndGlyphs">1996</text>
<text x="596" y="563" textLength="29.94" lengthAdjust="spacingAndGlyphs">1998</text>
<text x="636" y="563" textLength="29.94" lengthAdjust="spacingAndGlyphs">2000</text>
<text x="675" y="563" textLength="29.94" lengthAdjust="spacingAndGlyphs">2002</text>
<text x="715" y="563" textLength="29.94" lengthAdjust="spacingAndGlyphs">2004</text>
<text x="754" y="563" textLength="29.94" lengthAdjust="spacingAndGlyphs">2006</text>
<text x="794" y="563" textLength="29.94" lengthAdjust="spacingAndGlyphs">2008</text>
<text x="833" y="563" textLength="29.94" lengthAdjust="spacingAndGlyphs">2010</text>
<text x="873" y="563" textLength="29.94" lengthAdjust="spacingAndGlyphs">2012</text>
<text x="912" y="563" textLength="29.94" lengthAdjust="spacingAndGlyphs">2014</text>
<text x="952" y="563" textLength="29.94" lengthAdjust="spacingAndGlyphs">2016</text>
<text x="992" y="563" textLength="29.94" lengthAdjust="spacingAndGlyphs">2018</text>
</g>
<g filter="url(#crisp)">
<text x="11" y="21" font-size="15.6" fill="#000" stroke="#000" stroke-width="0.45" textLength="281.09" lengthAdjust="spacingAndGlyphs">Dollar Index (DXY INDEX) 96.734</text>
<text x="298" y="21" font-size="15.6" fill="#0000ff" stroke="#0000ff" stroke-width="0.45" textLength="37.69" lengthAdjust="spacingAndGlyphs">2.18</text>
<text x="985" y="20" font-size="15.8" fill="#000" textLength="90.01" lengthAdjust="spacingAndGlyphs">2018-08-15</text>
<text x="10" y="45" font-size="13.8" fill="#0000d8" textLength="54.52" lengthAdjust="spacingAndGlyphs">Monthly</text>
<text x="10" y="65" font-size="13.8" fill="#aa2020" textLength="60.07" lengthAdjust="spacingAndGlyphs">EMA 200</text>
<text x="1" y="590" font-size="13.8" fill="#0000ff" textLength="210.91" lengthAdjust="spacingAndGlyphs">www.fullertreacymoney.com</text>
</g><g filter="url(#crispC)">
<text x="625" y="590" font-size="12" fill="#999999" textLength="449.4" lengthAdjust="spacingAndGlyphs">This website is © 2008-2018 Fuller Treacy Money plc. All rights reserved</text>
</g>
</svg></body></html>
